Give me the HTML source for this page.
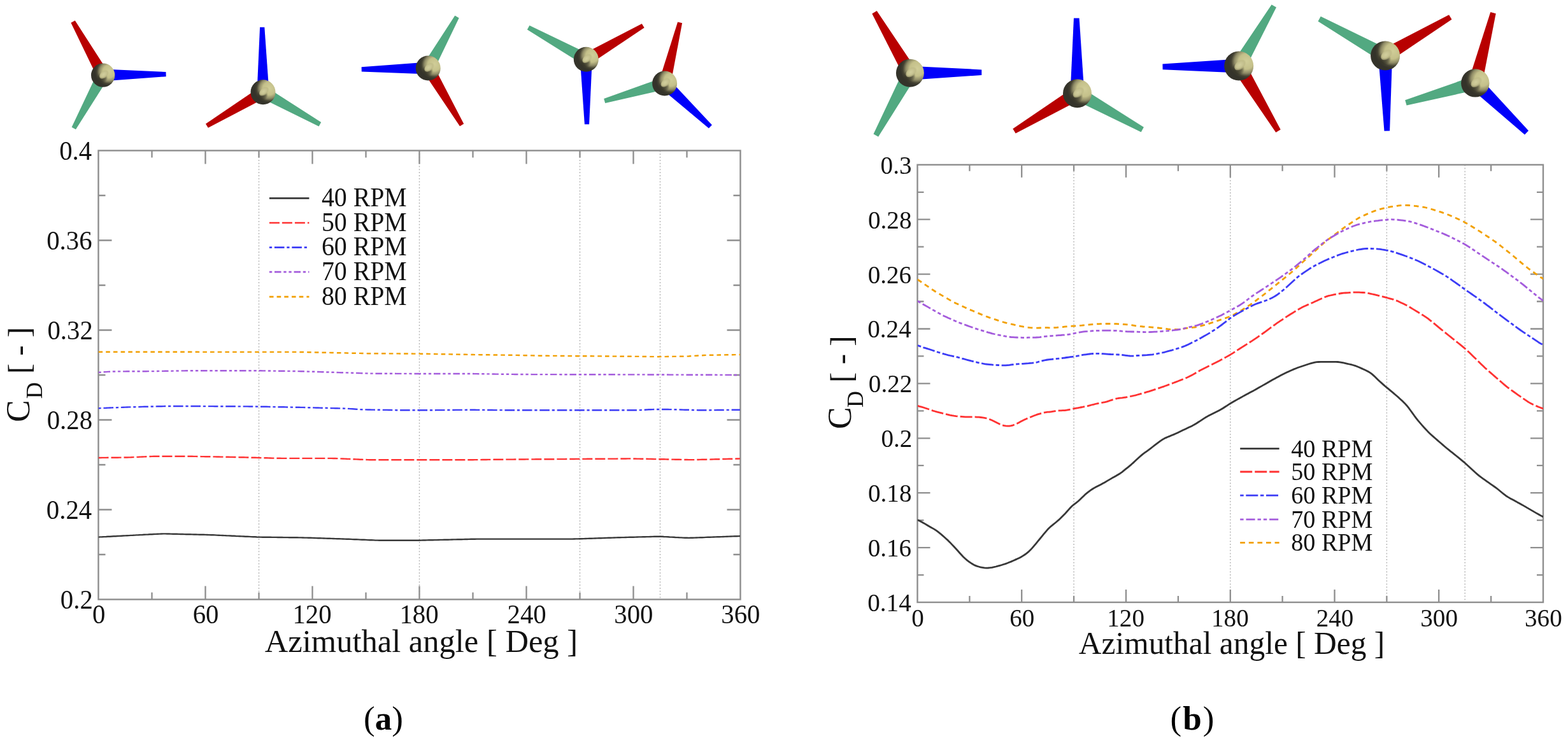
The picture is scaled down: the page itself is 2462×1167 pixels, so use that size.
<!DOCTYPE html>
<html><head><meta charset="utf-8"><title>Drag coefficient vs azimuthal angle</title>
<style>html,body{margin:0;padding:0;background:#fff;}svg{display:block;}</style></head>
<body>
<svg width="2462" height="1167" viewBox="0 0 2462 1167" font-family="Liberation Serif, Times New Roman, serif">
<defs><radialGradient id="hub" cx="0.74" cy="0.36" r="0.58" fx="0.76" fy="0.34">
<stop offset="0" stop-color="#d0cd98"/><stop offset="0.45" stop-color="#c4c08a"/><stop offset="0.68" stop-color="#8f8b66"/><stop offset="0.86" stop-color="#444232"/><stop offset="1" stop-color="#34332a"/></radialGradient>
<radialGradient id="crs" cx="0.5" cy="0.5" r="0.5"><stop offset="0" stop-color="#24231b" stop-opacity="0.75"/><stop offset="0.6" stop-color="#2a291f" stop-opacity="0.45"/><stop offset="1" stop-color="#2a291f" stop-opacity="0"/></radialGradient>
<radialGradient id="nub" cx="0.45" cy="0.45" r="0.55"><stop offset="0" stop-color="#d2cf9e"/><stop offset="0.55" stop-color="#c6c290"/><stop offset="0.8" stop-color="#bdb986" stop-opacity="0.7"/><stop offset="1" stop-color="#bdb986" stop-opacity="0"/></radialGradient><clipPath id="cl"><rect x="154.5" y="236.5" width="1008.0" height="705.0"/></clipPath><clipPath id="cr"><rect x="1440.5" y="258.8" width="982.5" height="687.2"/></clipPath></defs>
<rect width="2462" height="1167" fill="#fff"/>
<g>
<g>
<polygon fill="#b80000" points="170.0,113.5 117.8,32.2 111.4,35.8 153.4,122.7"/>
<polygon fill="#0000fa" points="161.8,127.6 260.7,120.2 260.5,113.0 161.6,108.6"/>
<polygon fill="#52a981" points="153.4,113.5 112.6,199.7 119.0,203.3 170.0,122.7"/>
<circle cx="161.7" cy="118.1" r="18.7" fill="url(#hub)"/>
<circle cx="160.8" cy="122.2" r="8.4" fill="url(#crs)"/>
<ellipse cx="163.6" cy="117.0" rx="8.6" ry="5.6" transform="rotate(-38 163.6 117.0)" fill="url(#nub)"/>
</g>
<g>
<polygon fill="#0000fa" points="422.5,144.7 415.3,42.8 408.1,42.8 403.5,144.9"/>
<polygon fill="#b80000" points="408.1,136.7 323.0,194.6 326.8,200.8 417.9,152.9"/>
<polygon fill="#52a981" points="408.3,153.1 500.6,198.4 504.2,192.0 417.7,136.5"/>
<circle cx="413.0" cy="144.8" r="19.5" fill="url(#hub)"/>
<circle cx="412.0" cy="149.1" r="8.8" fill="url(#crs)"/>
<ellipse cx="414.9" cy="143.6" rx="9.0" ry="5.8" transform="rotate(-38 414.9 143.6)" fill="url(#nub)"/>
</g>
<g>
<polygon fill="#0000fa" points="672.0,97.5 567.6,105.2 567.8,112.4 672.4,116.5"/>
<polygon fill="#52a981" points="680.5,111.7 720.7,28.2 714.3,24.6 663.9,102.3"/>
<polygon fill="#b80000" points="664.0,111.8 722.0,198.3 728.2,194.5 680.4,102.2"/>
<circle cx="672.2" cy="107.0" r="19.5" fill="url(#hub)"/>
<circle cx="671.2" cy="111.3" r="8.8" fill="url(#crs)"/>
<ellipse cx="674.2" cy="105.8" rx="9.0" ry="5.8" transform="rotate(-38 674.2 105.8)" fill="url(#nub)"/>
</g>
<g>
<polygon fill="#52a981" points="924.9,84.9 831.4,40.1 827.8,46.5 915.7,101.5"/>
<polygon fill="#b80000" points="925.1,101.4 1011.6,43.4 1007.8,37.2 915.5,85.0"/>
<polygon fill="#0000fa" points="910.8,93.3 917.9,195.2 925.1,195.2 929.8,93.1"/>
<circle cx="920.3" cy="93.2" r="19.5" fill="url(#hub)"/>
<circle cx="919.3" cy="97.5" r="8.8" fill="url(#crs)"/>
<ellipse cx="922.2" cy="92.0" rx="9.0" ry="5.8" transform="rotate(-38 922.2 92.0)" fill="url(#nub)"/>
</g>
<g>
<polygon fill="#b80000" points="1052.8,133.3 1071.1,36.2 1064.1,34.4 1034.4,128.7"/>
<polygon fill="#52a981" points="1040.9,121.9 948.2,155.1 950.2,162.1 1046.3,140.1"/>
<polygon fill="#0000fa" points="1037.1,137.9 1112.9,201.6 1117.9,196.2 1050.1,124.1"/>
<circle cx="1043.6" cy="131.0" r="19.5" fill="url(#hub)"/>
<circle cx="1042.6" cy="135.3" r="8.8" fill="url(#crs)"/>
<ellipse cx="1045.5" cy="129.8" rx="9.0" ry="5.8" transform="rotate(-38 1045.5 129.8)" fill="url(#nub)"/>
</g>
<g>
<polygon fill="#b80000" points="1438.4,109.1 1376.7,17.1 1369.3,21.5 1419.4,120.3"/>
<polygon fill="#0000fa" points="1429.0,125.7 1541.3,118.0 1541.3,109.4 1428.8,103.7"/>
<polygon fill="#52a981" points="1419.2,109.4 1371.5,210.6 1379.1,214.8 1438.6,120.0"/>
<circle cx="1428.9" cy="114.7" r="22.0" fill="url(#hub)"/>
<circle cx="1427.8" cy="119.5" r="9.9" fill="url(#crs)"/>
<ellipse cx="1431.1" cy="113.4" rx="10.1" ry="6.6" transform="rotate(-38 1431.1 113.4)" fill="url(#nub)"/>
</g>
<g>
<polygon fill="#0000fa" points="1702.5,146.6 1694.6,28.4 1686.0,28.4 1680.5,146.8"/>
<polygon fill="#b80000" points="1685.9,137.3 1590.3,202.2 1594.7,209.6 1697.1,156.1"/>
<polygon fill="#52a981" points="1686.2,156.3 1791.7,207.4 1795.9,199.8 1696.8,137.1"/>
<circle cx="1691.5" cy="146.7" r="22.5" fill="url(#hub)"/>
<circle cx="1690.4" cy="151.6" r="10.1" fill="url(#crs)"/>
<ellipse cx="1693.8" cy="145.3" rx="10.3" ry="6.8" transform="rotate(-38 1693.8 145.3)" fill="url(#nub)"/>
</g>
<g>
<polygon fill="#0000fa" points="1945.1,92.5 1825.4,100.6 1825.6,109.2 1945.3,114.5"/>
<polygon fill="#52a981" points="1954.7,109.1 2004.0,11.6 1996.6,7.2 1935.7,97.9"/>
<polygon fill="#b80000" points="1935.8,109.2 2003.3,207.9 2010.7,203.5 1954.6,97.8"/>
<circle cx="1945.2" cy="103.5" r="23.0" fill="url(#hub)"/>
<circle cx="1944.0" cy="108.6" r="10.3" fill="url(#crs)"/>
<ellipse cx="1947.5" cy="102.1" rx="10.6" ry="6.9" transform="rotate(-38 1947.5 102.1)" fill="url(#nub)"/>
</g>
<g>
<polygon fill="#52a981" points="2180.5,77.8 2073.7,25.8 2069.5,33.4 2169.7,97.0"/>
<polygon fill="#b80000" points="2180.7,96.9 2279.5,30.6 2275.1,23.2 2169.5,77.9"/>
<polygon fill="#0000fa" points="2164.1,87.7 2173.5,205.8 2182.1,205.6 2186.1,87.1"/>
<circle cx="2175.1" cy="87.4" r="23.0" fill="url(#hub)"/>
<circle cx="2173.9" cy="92.5" r="10.3" fill="url(#crs)"/>
<ellipse cx="2177.4" cy="86.0" rx="10.6" ry="6.9" transform="rotate(-38 2177.4 86.0)" fill="url(#nub)"/>
</g>
<g>
<polygon fill="#b80000" points="2327.0,133.1 2348.7,21.3 2340.3,19.1 2305.6,127.7"/>
<polygon fill="#52a981" points="2313.3,119.8 2206.2,157.2 2208.6,165.4 2319.3,141.0"/>
<polygon fill="#0000fa" points="2308.7,138.3 2394.0,211.5 2400.0,205.3 2323.9,122.5"/>
<circle cx="2316.3" cy="130.4" r="22.2" fill="url(#hub)"/>
<circle cx="2315.2" cy="135.3" r="10.0" fill="url(#crs)"/>
<ellipse cx="2318.5" cy="129.1" rx="10.2" ry="6.7" transform="rotate(-38 2318.5 129.1)" fill="url(#nub)"/>
</g>
<line x1="406.5" y1="236.5" x2="406.5" y2="941.5" stroke="#b4b4b4" stroke-width="1.4" stroke-dasharray="2 2.8"/>
<line x1="658.5" y1="236.5" x2="658.5" y2="941.5" stroke="#b4b4b4" stroke-width="1.4" stroke-dasharray="2 2.8"/>
<line x1="910.5" y1="236.5" x2="910.5" y2="941.5" stroke="#b4b4b4" stroke-width="1.4" stroke-dasharray="2 2.8"/>
<line x1="1036.5" y1="236.5" x2="1036.5" y2="941.5" stroke="#b4b4b4" stroke-width="1.4" stroke-dasharray="2 2.8"/>
<rect x="154.5" y="236.5" width="1008.0" height="705.0" fill="none" stroke="#8e8e8e" stroke-width="2.4"/>
<path stroke="#8e8e8e" stroke-width="2.3" fill="none" d="M322.5,941.5L322.5,920.5 M322.5,236.5L322.5,257.5 M490.5,941.5L490.5,920.5 M490.5,236.5L490.5,257.5 M658.5,941.5L658.5,920.5 M658.5,236.5L658.5,257.5 M826.5,941.5L826.5,920.5 M826.5,236.5L826.5,257.5 M994.5,941.5L994.5,920.5 M994.5,236.5L994.5,257.5 M238.5,941.5L238.5,930.5 M238.5,236.5L238.5,247.5 M406.5,941.5L406.5,930.5 M406.5,236.5L406.5,247.5 M574.5,941.5L574.5,930.5 M574.5,236.5L574.5,247.5 M742.5,941.5L742.5,930.5 M742.5,236.5L742.5,247.5 M910.5,941.5L910.5,930.5 M910.5,236.5L910.5,247.5 M1078.5,941.5L1078.5,930.5 M1078.5,236.5L1078.5,247.5 M154.5,800.5L175.5,800.5 M1162.5,800.5L1141.5,800.5 M154.5,659.5L175.5,659.5 M1162.5,659.5L1141.5,659.5 M154.5,518.5L175.5,518.5 M1162.5,518.5L1141.5,518.5 M154.5,377.5L175.5,377.5 M1162.5,377.5L1141.5,377.5 M154.5,871.0L165.5,871.0 M1162.5,871.0L1151.5,871.0 M154.5,730.0L165.5,730.0 M1162.5,730.0L1151.5,730.0 M154.5,589.0L165.5,589.0 M1162.5,589.0L1151.5,589.0 M154.5,448.0L165.5,448.0 M1162.5,448.0L1151.5,448.0 M154.5,307.0L165.5,307.0 M1162.5,307.0L1151.5,307.0"/>
<line x1="1686.1" y1="258.8" x2="1686.1" y2="946.0" stroke="#b4b4b4" stroke-width="1.4" stroke-dasharray="2 2.8"/>
<line x1="1931.8" y1="258.8" x2="1931.8" y2="946.0" stroke="#b4b4b4" stroke-width="1.4" stroke-dasharray="2 2.8"/>
<line x1="2177.4" y1="258.8" x2="2177.4" y2="946.0" stroke="#b4b4b4" stroke-width="1.4" stroke-dasharray="2 2.8"/>
<line x1="2300.2" y1="258.8" x2="2300.2" y2="946.0" stroke="#b4b4b4" stroke-width="1.4" stroke-dasharray="2 2.8"/>
<rect x="1440.5" y="258.8" width="982.5" height="687.2" fill="none" stroke="#8e8e8e" stroke-width="2.4"/>
<path stroke="#8e8e8e" stroke-width="2.3" fill="none" d="M1604.2,946.0L1604.2,926.0 M1604.2,258.8L1604.2,278.8 M1768.0,946.0L1768.0,926.0 M1768.0,258.8L1768.0,278.8 M1931.8,946.0L1931.8,926.0 M1931.8,258.8L1931.8,278.8 M2095.5,946.0L2095.5,926.0 M2095.5,258.8L2095.5,278.8 M2259.2,946.0L2259.2,926.0 M2259.2,258.8L2259.2,278.8 M1522.4,946.0L1522.4,936.0 M1522.4,258.8L1522.4,268.8 M1686.1,946.0L1686.1,936.0 M1686.1,258.8L1686.1,268.8 M1849.9,946.0L1849.9,936.0 M1849.9,258.8L1849.9,268.8 M2013.6,946.0L2013.6,936.0 M2013.6,258.8L2013.6,268.8 M2177.4,946.0L2177.4,936.0 M2177.4,258.8L2177.4,268.8 M2341.1,946.0L2341.1,936.0 M2341.1,258.8L2341.1,268.8 M1440.5,860.1L1460.5,860.1 M2423.0,860.1L2403.0,860.1 M1440.5,774.2L1460.5,774.2 M2423.0,774.2L2403.0,774.2 M1440.5,688.3L1460.5,688.3 M2423.0,688.3L2403.0,688.3 M1440.5,602.4L1460.5,602.4 M2423.0,602.4L2403.0,602.4 M1440.5,516.5L1460.5,516.5 M2423.0,516.5L2403.0,516.5 M1440.5,430.6L1460.5,430.6 M2423.0,430.6L2403.0,430.6 M1440.5,344.7L1460.5,344.7 M2423.0,344.7L2403.0,344.7 M1440.5,903.1L1450.5,903.1 M2423.0,903.1L2413.0,903.1 M1440.5,817.1L1450.5,817.1 M2423.0,817.1L2413.0,817.1 M1440.5,731.2L1450.5,731.2 M2423.0,731.2L2413.0,731.2 M1440.5,645.4L1450.5,645.4 M2423.0,645.4L2413.0,645.4 M1440.5,559.4L1450.5,559.4 M2423.0,559.4L2413.0,559.4 M1440.5,473.5L1450.5,473.5 M2423.0,473.5L2413.0,473.5 M1440.5,387.6L1450.5,387.6 M2423.0,387.6L2413.0,387.6 M1440.5,301.8L1450.5,301.8 M2423.0,301.8L2413.0,301.8"/>
<path clip-path="url(#cl)" d="M154.5,552.8 L157.5,552.8 L160.5,552.8 L163.5,552.8 L166.5,552.8 L169.5,552.8 L172.5,552.8 L175.5,552.8 L178.5,552.8 L181.5,552.8 L184.5,552.8 L187.5,552.8 L190.5,552.8 L193.5,552.8 L196.5,552.8 L199.5,552.8 L202.5,552.8 L205.5,552.8 L208.5,552.8 L211.5,552.8 L214.5,552.8 L217.5,552.8 L220.5,552.8 L223.5,552.8 L226.5,552.8 L229.5,552.8 L232.5,552.8 L235.5,552.8 L238.5,552.8 L241.5,552.8 L244.5,552.8 L247.5,552.8 L250.5,552.8 L253.5,552.8 L256.5,552.8 L259.5,552.8 L262.5,552.8 L265.5,552.8 L268.5,552.8 L271.5,552.8 L274.5,552.8 L277.5,552.8 L280.5,552.8 L283.5,552.8 L286.5,552.8 L289.5,552.8 L292.5,552.8 L295.5,552.8 L298.5,552.8 L301.5,552.8 L304.5,552.8 L307.5,552.8 L310.5,552.8 L313.5,552.9 L316.5,552.9 L319.5,552.9 L322.5,552.9 L325.5,552.9 L328.5,552.9 L331.5,552.9 L334.5,552.9 L337.5,552.9 L340.5,552.9 L343.5,552.9 L346.5,552.9 L349.5,552.9 L352.5,552.9 L355.5,552.9 L358.5,552.9 L361.5,552.9 L364.5,552.9 L367.5,552.9 L370.5,552.9 L373.5,552.9 L376.5,552.9 L379.5,552.9 L382.5,552.9 L385.5,552.9 L388.5,552.9 L391.5,552.9 L394.5,552.9 L397.5,552.9 L400.5,552.9 L403.5,552.9 L406.5,552.9 L409.5,552.9 L412.5,552.9 L415.5,552.9 L418.5,552.9 L421.5,552.9 L424.5,552.9 L427.5,552.9 L430.5,552.9 L433.5,552.9 L436.5,552.9 L439.5,552.9 L442.5,552.9 L445.5,552.9 L448.5,552.9 L451.5,552.9 L454.5,552.9 L457.5,552.9 L460.5,552.9 L463.5,552.9 L466.5,552.9 L469.5,552.9 L472.5,553.0 L475.5,553.0 L478.5,553.1 L481.5,553.1 L484.5,553.2 L487.5,553.3 L490.5,553.3 L493.5,553.4 L496.5,553.5 L499.5,553.5 L502.5,553.6 L505.5,553.7 L508.5,553.7 L511.5,553.8 L514.5,553.8 L517.5,553.9 L520.5,554.0 L523.5,554.0 L526.5,554.1 L529.5,554.2 L532.5,554.2 L535.5,554.3 L538.5,554.4 L541.5,554.4 L544.5,554.5 L547.5,554.6 L550.5,554.6 L553.5,554.7 L556.5,554.7 L559.5,554.8 L562.5,554.9 L565.5,554.9 L568.5,555.0 L571.5,555.1 L574.5,555.1 L577.5,555.2 L580.5,555.2 L583.5,555.2 L586.5,555.2 L589.5,555.3 L592.5,555.3 L595.5,555.3 L598.5,555.3 L601.5,555.3 L604.5,555.3 L607.5,555.3 L610.5,555.4 L613.5,555.4 L616.5,555.4 L619.5,555.4 L622.5,555.4 L625.5,555.4 L628.5,555.5 L631.5,555.5 L634.5,555.5 L637.5,555.5 L640.5,555.5 L643.5,555.5 L646.5,555.5 L649.5,555.6 L652.5,555.6 L655.5,555.6 L658.5,555.6 L661.5,555.7 L664.5,555.7 L667.5,555.8 L670.5,555.8 L673.5,555.9 L676.5,555.9 L679.5,556.0 L682.5,556.0 L685.5,556.1 L688.5,556.1 L691.5,556.2 L694.5,556.2 L697.5,556.3 L700.5,556.3 L703.5,556.4 L706.5,556.4 L709.5,556.5 L712.5,556.5 L715.5,556.6 L718.5,556.6 L721.5,556.7 L724.5,556.7 L727.5,556.8 L730.5,556.8 L733.5,556.9 L736.5,556.9 L739.5,557.0 L742.5,557.0 L745.5,557.1 L748.5,557.1 L751.5,557.1 L754.5,557.2 L757.5,557.2 L760.5,557.3 L763.5,557.3 L766.5,557.3 L769.5,557.4 L772.5,557.4 L775.5,557.5 L778.5,557.5 L781.5,557.5 L784.5,557.6 L787.5,557.6 L790.5,557.6 L793.5,557.7 L796.5,557.7 L799.5,557.8 L802.5,557.8 L805.5,557.8 L808.5,557.9 L811.5,557.9 L814.5,558.0 L817.5,558.1 L820.5,558.1 L823.5,558.2 L826.5,558.2 L829.5,558.3 L832.5,558.4 L835.5,558.4 L838.5,558.5 L841.5,558.5 L844.5,558.6 L847.5,558.7 L850.5,558.7 L853.5,558.8 L856.5,558.8 L859.5,558.8 L862.5,558.9 L865.5,558.9 L868.5,558.9 L871.5,558.9 L874.5,558.9 L877.5,559.0 L880.5,559.0 L883.5,559.0 L886.5,559.0 L889.5,559.1 L892.5,559.1 L895.5,559.1 L898.5,559.1 L901.5,559.1 L904.5,559.2 L907.5,559.2 L910.5,559.2 L913.5,559.2 L916.5,559.2 L919.5,559.3 L922.5,559.3 L925.5,559.3 L928.5,559.3 L931.5,559.4 L934.5,559.4 L937.5,559.4 L940.5,559.4 L943.5,559.4 L946.5,559.5 L949.5,559.5 L952.5,559.5 L955.5,559.5 L958.5,559.5 L961.5,559.6 L964.5,559.6 L967.5,559.6 L970.5,559.6 L973.5,559.7 L976.5,559.7 L979.5,559.7 L982.5,559.7 L985.5,559.8 L988.5,559.8 L991.5,559.8 L994.5,559.8 L997.5,559.9 L1000.5,559.9 L1003.5,559.9 L1006.5,559.9 L1009.5,560.0 L1012.5,560.0 L1015.5,560.0 L1018.5,560.1 L1021.5,560.1 L1024.5,560.1 L1027.5,560.1 L1030.5,560.2 L1033.5,560.2 L1036.5,560.2 L1039.5,560.1 L1042.5,560.1 L1045.5,560.1 L1048.5,560.0 L1051.5,560.0 L1054.5,560.0 L1057.5,559.9 L1060.5,559.9 L1063.5,559.9 L1066.5,559.8 L1069.5,559.8 L1072.5,559.8 L1075.5,559.7 L1078.5,559.6 L1081.5,559.5 L1084.5,559.3 L1087.5,559.1 L1090.5,558.9 L1093.5,558.7 L1096.5,558.5 L1099.5,558.3 L1102.5,558.2 L1105.5,558.0 L1108.5,557.9 L1111.5,557.8 L1114.5,557.8 L1117.5,557.7 L1120.5,557.7 L1123.5,557.6 L1126.5,557.6 L1129.5,557.5 L1132.5,557.5 L1135.5,557.4 L1138.5,557.4 L1141.5,557.3 L1144.5,557.3 L1147.5,557.2 L1150.5,557.2 L1153.5,557.1 L1156.5,557.1 L1159.5,557.0 L1162.0,557.0" fill="none" stroke="#f2a000" stroke-width="2.4" stroke-linejoin="round" stroke-dasharray="6.6 5.1"/>
<path clip-path="url(#cr)" d="M1440.6,439.0 L1443.6,441.0 L1446.6,443.0 L1449.6,445.1 L1452.6,447.1 L1455.6,449.1 L1458.6,451.2 L1461.6,453.2 L1464.6,455.3 L1467.6,457.2 L1470.6,459.1 L1473.6,460.9 L1476.6,462.6 L1479.6,464.4 L1482.6,466.2 L1485.6,467.9 L1488.6,469.6 L1491.6,471.4 L1494.6,473.1 L1497.6,474.7 L1500.6,476.2 L1503.6,477.6 L1506.6,479.0 L1509.6,480.4 L1512.6,481.7 L1515.6,483.1 L1518.6,484.4 L1521.6,485.8 L1524.6,487.1 L1527.6,488.3 L1530.6,489.6 L1533.6,490.8 L1536.6,492.1 L1539.6,493.4 L1542.6,494.6 L1545.6,495.8 L1548.6,497.0 L1551.6,498.1 L1554.6,499.2 L1557.6,500.2 L1560.6,501.2 L1563.6,502.2 L1566.6,503.2 L1569.6,504.2 L1572.6,505.1 L1575.6,506.0 L1578.6,506.8 L1581.6,507.6 L1584.6,508.3 L1587.6,509.0 L1590.6,509.7 L1593.6,510.4 L1596.6,511.1 L1599.6,511.8 L1602.6,512.4 L1605.6,512.9 L1608.6,513.4 L1611.6,513.9 L1614.6,514.3 L1617.6,514.6 L1620.6,514.8 L1623.6,515.0 L1626.6,515.1 L1629.6,515.1 L1632.6,515.0 L1635.6,514.9 L1638.6,514.8 L1641.6,514.7 L1644.6,514.7 L1647.6,514.8 L1650.6,514.8 L1653.6,514.7 L1656.6,514.6 L1659.6,514.4 L1662.6,514.1 L1665.6,513.9 L1668.6,513.6 L1671.6,513.2 L1674.6,512.9 L1677.6,512.6 L1680.6,512.4 L1683.6,512.2 L1686.6,512.1 L1689.6,511.9 L1692.6,511.7 L1695.6,511.4 L1698.6,511.2 L1701.6,510.8 L1704.6,510.5 L1707.6,510.2 L1710.6,509.9 L1713.6,509.6 L1716.6,509.3 L1719.6,509.1 L1722.6,508.9 L1725.6,508.8 L1728.6,508.7 L1731.6,508.6 L1734.6,508.5 L1737.6,508.5 L1740.6,508.5 L1743.6,508.5 L1746.6,508.6 L1749.6,508.6 L1752.6,508.7 L1755.6,508.9 L1758.6,509.0 L1761.6,509.2 L1764.6,509.4 L1767.6,509.6 L1770.6,509.9 L1773.6,510.2 L1776.6,510.6 L1779.6,511.1 L1782.6,511.6 L1785.6,512.0 L1788.6,512.4 L1791.6,512.7 L1794.6,513.0 L1797.6,513.2 L1800.6,513.5 L1803.6,513.7 L1806.6,513.9 L1809.6,514.1 L1812.6,514.4 L1815.6,514.7 L1818.6,515.0 L1821.6,515.3 L1824.6,515.7 L1827.6,516.1 L1830.6,516.5 L1833.6,516.9 L1836.6,517.2 L1839.6,517.4 L1842.6,517.5 L1845.6,517.5 L1848.6,517.4 L1851.6,517.2 L1854.6,516.8 L1857.6,516.4 L1860.6,515.9 L1863.6,515.4 L1866.6,515.0 L1869.6,514.7 L1872.6,514.4 L1875.6,514.0 L1878.6,513.6 L1881.6,512.9 L1884.6,512.2 L1887.6,511.4 L1890.6,510.6 L1893.6,509.8 L1896.6,508.9 L1899.6,507.9 L1902.6,506.9 L1905.6,505.9 L1908.6,504.9 L1911.6,503.9 L1914.6,502.9 L1917.6,501.9 L1920.6,500.9 L1923.6,499.9 L1926.6,498.8 L1929.6,497.7 L1932.6,496.4 L1935.6,494.9 L1938.6,493.4 L1941.6,491.7 L1944.6,490.1 L1947.6,488.4 L1950.6,486.6 L1953.6,484.7 L1956.6,482.8 L1959.6,480.8 L1962.6,478.9 L1965.6,476.8 L1968.6,474.7 L1971.6,472.5 L1974.6,470.2 L1977.6,467.9 L1980.6,465.6 L1983.6,463.3 L1986.6,461.0 L1989.6,458.6 L1992.6,456.2 L1995.6,453.8 L1998.6,451.4 L2001.6,449.0 L2004.6,446.6 L2007.6,444.2 L2010.6,441.8 L2013.6,439.3 L2016.6,436.9 L2019.6,434.5 L2022.6,432.0 L2025.6,429.5 L2028.6,427.0 L2031.6,424.4 L2034.6,421.7 L2037.6,418.9 L2040.6,416.2 L2043.6,413.4 L2046.6,410.6 L2049.6,407.9 L2052.6,405.2 L2055.6,402.6 L2058.6,399.9 L2061.6,397.2 L2064.6,394.4 L2067.6,391.7 L2070.6,388.9 L2073.6,386.1 L2076.6,383.4 L2079.6,380.8 L2082.6,378.4 L2085.6,376.0 L2088.6,373.8 L2091.6,371.5 L2094.6,369.3 L2097.6,367.0 L2100.6,364.8 L2103.6,362.6 L2106.6,360.3 L2109.6,358.2 L2112.6,356.0 L2115.6,354.0 L2118.6,352.0 L2121.6,350.0 L2124.6,348.0 L2127.6,346.0 L2130.6,344.1 L2133.6,342.3 L2136.6,340.7 L2139.6,339.3 L2142.6,337.9 L2145.6,336.6 L2148.6,335.3 L2151.6,334.0 L2154.6,332.7 L2157.6,331.6 L2160.6,330.5 L2163.6,329.6 L2166.6,328.7 L2169.6,327.9 L2172.6,327.1 L2175.6,326.4 L2178.6,325.8 L2181.6,325.2 L2184.6,324.7 L2187.6,324.2 L2190.6,323.8 L2193.6,323.3 L2196.6,322.9 L2199.6,322.6 L2202.6,322.5 L2205.6,322.4 L2208.6,322.4 L2211.6,322.5 L2214.6,322.6 L2217.6,322.9 L2220.6,323.3 L2223.6,323.6 L2226.6,324.1 L2229.6,324.5 L2232.6,324.9 L2235.6,325.4 L2238.6,326.0 L2241.6,326.8 L2244.6,327.7 L2247.6,328.5 L2250.6,329.4 L2253.6,330.3 L2256.6,331.2 L2259.6,332.2 L2262.6,333.2 L2265.6,334.2 L2268.6,335.3 L2271.6,336.4 L2274.6,337.5 L2277.6,338.8 L2280.6,340.1 L2283.6,341.4 L2286.6,342.8 L2289.6,344.1 L2292.6,345.5 L2295.6,346.9 L2298.6,348.4 L2301.6,350.1 L2304.6,351.8 L2307.6,353.6 L2310.6,355.5 L2313.6,357.3 L2316.6,359.2 L2319.6,361.1 L2322.6,362.9 L2325.6,364.8 L2328.6,366.8 L2331.6,368.8 L2334.6,370.8 L2337.6,372.7 L2340.6,374.7 L2343.6,376.8 L2346.6,378.8 L2349.6,381.0 L2352.6,383.3 L2355.6,385.6 L2358.6,388.0 L2361.6,390.4 L2364.6,392.7 L2367.6,395.1 L2370.6,397.5 L2373.6,400.0 L2376.6,402.5 L2379.6,405.0 L2382.6,407.5 L2385.6,410.1 L2388.6,412.6 L2391.6,415.1 L2394.6,417.6 L2397.6,420.0 L2400.6,422.3 L2403.6,424.5 L2406.6,426.7 L2409.6,428.9 L2412.6,431.0 L2415.6,433.1 L2418.6,435.2 L2421.6,436.9 L2423.0,438.3" fill="none" stroke="#f2a000" stroke-width="2.8" stroke-linejoin="round" stroke-dasharray="7.7 5.9"/>
<path clip-path="url(#cl)" d="M154.5,584.9 L157.5,584.7 L160.5,584.5 L163.5,584.3 L166.5,584.1 L169.5,583.9 L172.5,583.7 L175.5,583.6 L178.5,583.5 L181.5,583.5 L184.5,583.4 L187.5,583.4 L190.5,583.4 L193.5,583.4 L196.5,583.4 L199.5,583.3 L202.5,583.3 L205.5,583.3 L208.5,583.3 L211.5,583.3 L214.5,583.3 L217.5,583.2 L220.5,583.2 L223.5,583.2 L226.5,583.2 L229.5,583.2 L232.5,583.1 L235.5,583.1 L238.5,583.1 L241.5,583.1 L244.5,583.0 L247.5,583.0 L250.5,582.9 L253.5,582.9 L256.5,582.9 L259.5,582.8 L262.5,582.8 L265.5,582.7 L268.5,582.7 L271.5,582.6 L274.5,582.6 L277.5,582.5 L280.5,582.5 L283.5,582.4 L286.5,582.4 L289.5,582.4 L292.5,582.3 L295.5,582.3 L298.5,582.2 L301.5,582.2 L304.5,582.2 L307.5,582.2 L310.5,582.2 L313.5,582.2 L316.5,582.2 L319.5,582.2 L322.5,582.2 L325.5,582.2 L328.5,582.2 L331.5,582.2 L334.5,582.2 L337.5,582.2 L340.5,582.2 L343.5,582.2 L346.5,582.2 L349.5,582.2 L352.5,582.2 L355.5,582.2 L358.5,582.2 L361.5,582.2 L364.5,582.2 L367.5,582.2 L370.5,582.2 L373.5,582.2 L376.5,582.2 L379.5,582.2 L382.5,582.2 L385.5,582.2 L388.5,582.2 L391.5,582.2 L394.5,582.2 L397.5,582.2 L400.5,582.2 L403.5,582.3 L406.5,582.3 L409.5,582.3 L412.5,582.4 L415.5,582.4 L418.5,582.4 L421.5,582.5 L424.5,582.5 L427.5,582.6 L430.5,582.6 L433.5,582.6 L436.5,582.7 L439.5,582.7 L442.5,582.7 L445.5,582.8 L448.5,582.8 L451.5,582.9 L454.5,582.9 L457.5,582.9 L460.5,583.0 L463.5,583.0 L466.5,583.1 L469.5,583.1 L472.5,583.2 L475.5,583.3 L478.5,583.4 L481.5,583.5 L484.5,583.6 L487.5,583.6 L490.5,583.7 L493.5,583.8 L496.5,583.9 L499.5,584.0 L502.5,584.1 L505.5,584.2 L508.5,584.3 L511.5,584.4 L514.5,584.5 L517.5,584.6 L520.5,584.7 L523.5,584.8 L526.5,584.9 L529.5,585.0 L532.5,585.1 L535.5,585.2 L538.5,585.2 L541.5,585.3 L544.5,585.4 L547.5,585.5 L550.5,585.6 L553.5,585.7 L556.5,585.8 L559.5,585.9 L562.5,586.0 L565.5,586.1 L568.5,586.2 L571.5,586.3 L574.5,586.4 L577.5,586.5 L580.5,586.6 L583.5,586.6 L586.5,586.7 L589.5,586.7 L592.5,586.7 L595.5,586.7 L598.5,586.8 L601.5,586.8 L604.5,586.8 L607.5,586.8 L610.5,586.8 L613.5,586.8 L616.5,586.8 L619.5,586.8 L622.5,586.9 L625.5,586.9 L628.5,586.9 L631.5,586.9 L634.5,586.9 L637.5,586.9 L640.5,586.9 L643.5,586.9 L646.5,587.0 L649.5,587.0 L652.5,587.0 L655.5,587.0 L658.5,587.0 L661.5,587.0 L664.5,587.0 L667.5,587.0 L670.5,587.0 L673.5,587.0 L676.5,587.0 L679.5,587.0 L682.5,587.0 L685.5,587.0 L688.5,587.0 L691.5,587.0 L694.5,587.0 L697.5,587.0 L700.5,587.0 L703.5,587.0 L706.5,587.0 L709.5,587.0 L712.5,587.0 L715.5,587.0 L718.5,587.0 L721.5,587.0 L724.5,587.0 L727.5,587.0 L730.5,587.0 L733.5,587.0 L736.5,587.0 L739.5,587.0 L742.5,587.0 L745.5,587.1 L748.5,587.1 L751.5,587.2 L754.5,587.2 L757.5,587.2 L760.5,587.3 L763.5,587.3 L766.5,587.4 L769.5,587.4 L772.5,587.5 L775.5,587.5 L778.5,587.6 L781.5,587.6 L784.5,587.6 L787.5,587.7 L790.5,587.7 L793.5,587.8 L796.5,587.8 L799.5,587.8 L802.5,587.9 L805.5,587.9 L808.5,588.0 L811.5,588.0 L814.5,588.0 L817.5,588.0 L820.5,588.0 L823.5,588.0 L826.5,588.0 L829.5,588.0 L832.5,588.0 L835.5,588.1 L838.5,588.1 L841.5,588.1 L844.5,588.1 L847.5,588.1 L850.5,588.1 L853.5,588.1 L856.5,588.1 L859.5,588.1 L862.5,588.1 L865.5,588.1 L868.5,588.1 L871.5,588.1 L874.5,588.1 L877.5,588.1 L880.5,588.2 L883.5,588.2 L886.5,588.2 L889.5,588.2 L892.5,588.2 L895.5,588.2 L898.5,588.2 L901.5,588.2 L904.5,588.2 L907.5,588.2 L910.5,588.2 L913.5,588.2 L916.5,588.2 L919.5,588.2 L922.5,588.2 L925.5,588.3 L928.5,588.3 L931.5,588.3 L934.5,588.3 L937.5,588.3 L940.5,588.3 L943.5,588.3 L946.5,588.3 L949.5,588.3 L952.5,588.3 L955.5,588.3 L958.5,588.3 L961.5,588.3 L964.5,588.3 L967.5,588.3 L970.5,588.4 L973.5,588.4 L976.5,588.4 L979.5,588.4 L982.5,588.4 L985.5,588.4 L988.5,588.4 L991.5,588.4 L994.5,588.4 L997.5,588.4 L1000.5,588.4 L1003.5,588.4 L1006.5,588.4 L1009.5,588.4 L1012.5,588.4 L1015.5,588.5 L1018.5,588.5 L1021.5,588.5 L1024.5,588.5 L1027.5,588.5 L1030.5,588.5 L1033.5,588.5 L1036.5,588.5 L1039.5,588.5 L1042.5,588.5 L1045.5,588.5 L1048.5,588.5 L1051.5,588.6 L1054.5,588.6 L1057.5,588.6 L1060.5,588.6 L1063.5,588.6 L1066.5,588.6 L1069.5,588.6 L1072.5,588.6 L1075.5,588.7 L1078.5,588.7 L1081.5,588.7 L1084.5,588.7 L1087.5,588.7 L1090.5,588.7 L1093.5,588.7 L1096.5,588.7 L1099.5,588.8 L1102.5,588.8 L1105.5,588.8 L1108.5,588.8 L1111.5,588.8 L1114.5,588.8 L1117.5,588.8 L1120.5,588.8 L1123.5,588.8 L1126.5,588.9 L1129.5,588.9 L1132.5,588.9 L1135.5,588.9 L1138.5,588.9 L1141.5,588.9 L1144.5,588.9 L1147.5,588.9 L1150.5,589.0 L1153.5,589.0 L1156.5,589.0 L1159.5,589.0 L1162.0,589.0" fill="none" stroke="#a45cdc" stroke-width="2.4" stroke-linejoin="round" stroke-dasharray="4.3 3.8 10.5 3.8 4.3 3.8"/>
<path clip-path="url(#cr)" d="M1440.6,472.8 L1443.6,474.5 L1446.6,476.2 L1449.6,478.0 L1452.6,479.7 L1455.6,481.4 L1458.6,483.1 L1461.6,484.8 L1464.6,486.6 L1467.6,488.3 L1470.6,489.9 L1473.6,491.6 L1476.6,493.3 L1479.6,494.9 L1482.6,496.4 L1485.6,497.8 L1488.6,499.2 L1491.6,500.5 L1494.6,501.9 L1497.6,503.2 L1500.6,504.5 L1503.6,505.8 L1506.6,507.0 L1509.6,508.1 L1512.6,509.2 L1515.6,510.3 L1518.6,511.4 L1521.6,512.5 L1524.6,513.5 L1527.6,514.6 L1530.6,515.7 L1533.6,516.7 L1536.6,517.6 L1539.6,518.5 L1542.6,519.4 L1545.6,520.3 L1548.6,521.2 L1551.6,522.1 L1554.6,522.9 L1557.6,523.8 L1560.6,524.5 L1563.6,525.1 L1566.6,525.8 L1569.6,526.4 L1572.6,527.0 L1575.6,527.6 L1578.6,528.2 L1581.6,528.8 L1584.6,529.2 L1587.6,529.5 L1590.6,529.7 L1593.6,529.9 L1596.6,530.0 L1599.6,530.1 L1602.6,530.2 L1605.6,530.3 L1608.6,530.3 L1611.6,530.3 L1614.6,530.2 L1617.6,530.2 L1620.6,530.1 L1623.6,530.1 L1626.6,530.0 L1629.6,529.8 L1632.6,529.6 L1635.6,529.2 L1638.6,528.8 L1641.6,528.4 L1644.6,528.1 L1647.6,527.8 L1650.6,527.6 L1653.6,527.3 L1656.6,527.1 L1659.6,526.9 L1662.6,526.7 L1665.6,526.5 L1668.6,526.2 L1671.6,526.0 L1674.6,525.7 L1677.6,525.3 L1680.6,524.9 L1683.6,524.3 L1686.6,523.6 L1689.6,523.0 L1692.6,522.3 L1695.6,521.8 L1698.6,521.3 L1701.6,520.9 L1704.6,520.6 L1707.6,520.4 L1710.6,520.1 L1713.6,519.9 L1716.6,519.7 L1719.6,519.5 L1722.6,519.4 L1725.6,519.3 L1728.6,519.2 L1731.6,519.2 L1734.6,519.2 L1737.6,519.2 L1740.6,519.2 L1743.6,519.2 L1746.6,519.2 L1749.6,519.3 L1752.6,519.4 L1755.6,519.6 L1758.6,519.9 L1761.6,520.2 L1764.6,520.4 L1767.6,520.6 L1770.6,520.8 L1773.6,520.9 L1776.6,521.0 L1779.6,521.0 L1782.6,521.1 L1785.6,521.2 L1788.6,521.3 L1791.6,521.4 L1794.6,521.5 L1797.6,521.6 L1800.6,521.6 L1803.6,521.6 L1806.6,521.5 L1809.6,521.4 L1812.6,521.2 L1815.6,521.1 L1818.6,520.8 L1821.6,520.6 L1824.6,520.3 L1827.6,520.1 L1830.6,519.9 L1833.6,519.7 L1836.6,519.4 L1839.6,519.1 L1842.6,518.7 L1845.6,518.4 L1848.6,518.0 L1851.6,517.5 L1854.6,517.0 L1857.6,516.3 L1860.6,515.5 L1863.6,514.7 L1866.6,514.0 L1869.6,513.3 L1872.6,512.6 L1875.6,512.0 L1878.6,511.3 L1881.6,510.4 L1884.6,509.3 L1887.6,508.2 L1890.6,507.0 L1893.6,505.8 L1896.6,504.6 L1899.6,503.3 L1902.6,502.1 L1905.6,500.7 L1908.6,499.4 L1911.6,498.0 L1914.6,496.6 L1917.6,495.2 L1920.6,493.6 L1923.6,492.0 L1926.6,490.4 L1929.6,488.7 L1932.6,487.1 L1935.6,485.4 L1938.6,483.8 L1941.6,482.2 L1944.6,480.5 L1947.6,478.7 L1950.6,476.7 L1953.6,474.6 L1956.6,472.3 L1959.6,470.0 L1962.6,467.7 L1965.6,465.5 L1968.6,463.4 L1971.6,461.4 L1974.6,459.4 L1977.6,457.5 L1980.6,455.5 L1983.6,453.6 L1986.6,451.6 L1989.6,449.7 L1992.6,447.7 L1995.6,445.7 L1998.6,443.7 L2001.6,441.7 L2004.6,439.7 L2007.6,437.7 L2010.6,435.6 L2013.6,433.5 L2016.6,431.4 L2019.6,429.2 L2022.6,427.0 L2025.6,424.8 L2028.6,422.6 L2031.6,420.3 L2034.6,417.9 L2037.6,415.4 L2040.6,412.9 L2043.6,410.4 L2046.6,407.9 L2049.6,405.3 L2052.6,402.6 L2055.6,399.8 L2058.6,397.1 L2061.6,394.4 L2064.6,391.9 L2067.6,389.5 L2070.6,387.1 L2073.6,384.7 L2076.6,382.3 L2079.6,380.0 L2082.6,377.8 L2085.6,375.7 L2088.6,373.9 L2091.6,372.0 L2094.6,370.3 L2097.6,368.5 L2100.6,366.7 L2103.6,365.0 L2106.6,363.4 L2109.6,361.9 L2112.6,360.6 L2115.6,359.2 L2118.6,357.9 L2121.6,356.6 L2124.6,355.3 L2127.6,354.2 L2130.6,353.1 L2133.6,352.3 L2136.6,351.5 L2139.6,350.8 L2142.6,350.1 L2145.6,349.4 L2148.6,348.8 L2151.6,348.2 L2154.6,347.7 L2157.6,347.3 L2160.6,346.9 L2163.6,346.6 L2166.6,346.2 L2169.6,345.9 L2172.6,345.6 L2175.6,345.3 L2178.6,345.0 L2181.6,344.8 L2184.6,344.7 L2187.6,344.8 L2190.6,344.9 L2193.6,345.1 L2196.6,345.5 L2199.6,345.8 L2202.6,346.2 L2205.6,346.6 L2208.6,347.1 L2211.6,347.6 L2214.6,348.2 L2217.6,349.0 L2220.6,349.9 L2223.6,350.9 L2226.6,351.9 L2229.6,352.9 L2232.6,353.9 L2235.6,355.0 L2238.6,356.1 L2241.6,357.2 L2244.6,358.4 L2247.6,359.6 L2250.6,360.8 L2253.6,362.0 L2256.6,363.2 L2259.6,364.4 L2262.6,365.6 L2265.6,366.8 L2268.6,368.1 L2271.6,369.4 L2274.6,370.8 L2277.6,372.2 L2280.6,373.7 L2283.6,375.2 L2286.6,376.7 L2289.6,378.2 L2292.6,379.7 L2295.6,381.3 L2298.6,382.9 L2301.6,384.7 L2304.6,386.6 L2307.6,388.5 L2310.6,390.5 L2313.6,392.5 L2316.6,394.6 L2319.6,396.6 L2322.6,398.6 L2325.6,400.6 L2328.6,402.6 L2331.6,404.6 L2334.6,406.6 L2337.6,408.6 L2340.6,410.6 L2343.6,412.6 L2346.6,414.5 L2349.6,416.5 L2352.6,418.5 L2355.6,420.6 L2358.6,422.6 L2361.6,424.8 L2364.6,426.9 L2367.6,429.1 L2370.6,431.4 L2373.6,433.6 L2376.6,435.8 L2379.6,438.0 L2382.6,440.2 L2385.6,442.4 L2388.6,444.8 L2391.6,447.1 L2394.6,449.6 L2397.6,452.1 L2400.6,454.5 L2403.6,457.0 L2406.6,459.5 L2409.6,461.9 L2412.6,464.4 L2415.6,466.9 L2418.6,469.2 L2421.6,471.2 L2423.0,472.8" fill="none" stroke="#a45cdc" stroke-width="2.8" stroke-linejoin="round" stroke-dasharray="5.4 3.9 14.1 3.9 5.4 3.9"/>
<path clip-path="url(#cl)" d="M154.5,641.2 L157.5,641.1 L160.5,641.0 L163.5,640.9 L166.5,640.8 L169.5,640.6 L172.5,640.5 L175.5,640.4 L178.5,640.3 L181.5,640.2 L184.5,640.1 L187.5,640.0 L190.5,639.9 L193.5,639.7 L196.5,639.6 L199.5,639.5 L202.5,639.4 L205.5,639.4 L208.5,639.3 L211.5,639.2 L214.5,639.1 L217.5,639.1 L220.5,639.0 L223.5,638.9 L226.5,638.8 L229.5,638.8 L232.5,638.7 L235.5,638.6 L238.5,638.5 L241.5,638.5 L244.5,638.4 L247.5,638.3 L250.5,638.2 L253.5,638.2 L256.5,638.1 L259.5,638.0 L262.5,638.0 L265.5,638.0 L268.5,638.0 L271.5,638.0 L274.5,638.0 L277.5,638.0 L280.5,638.0 L283.5,638.0 L286.5,638.0 L289.5,638.0 L292.5,638.0 L295.5,638.0 L298.5,638.0 L301.5,638.0 L304.5,638.0 L307.5,638.0 L310.5,638.0 L313.5,638.0 L316.5,638.0 L319.5,638.1 L322.5,638.1 L325.5,638.1 L328.5,638.1 L331.5,638.1 L334.5,638.1 L337.5,638.2 L340.5,638.2 L343.5,638.2 L346.5,638.2 L349.5,638.2 L352.5,638.2 L355.5,638.3 L358.5,638.3 L361.5,638.3 L364.5,638.3 L367.5,638.3 L370.5,638.3 L373.5,638.4 L376.5,638.4 L379.5,638.4 L382.5,638.4 L385.5,638.4 L388.5,638.4 L391.5,638.5 L394.5,638.5 L397.5,638.5 L400.5,638.5 L403.5,638.6 L406.5,638.6 L409.5,638.7 L412.5,638.7 L415.5,638.8 L418.5,638.8 L421.5,638.9 L424.5,639.0 L427.5,639.0 L430.5,639.1 L433.5,639.1 L436.5,639.2 L439.5,639.2 L442.5,639.3 L445.5,639.3 L448.5,639.4 L451.5,639.5 L454.5,639.5 L457.5,639.6 L460.5,639.6 L463.5,639.7 L466.5,639.7 L469.5,639.8 L472.5,639.9 L475.5,639.9 L478.5,640.0 L481.5,640.1 L484.5,640.2 L487.5,640.2 L490.5,640.3 L493.5,640.4 L496.5,640.5 L499.5,640.5 L502.5,640.6 L505.5,640.7 L508.5,640.8 L511.5,640.8 L514.5,640.9 L517.5,641.0 L520.5,641.1 L523.5,641.1 L526.5,641.2 L529.5,641.3 L532.5,641.4 L535.5,641.4 L538.5,641.5 L541.5,641.6 L544.5,641.8 L547.5,641.9 L550.5,642.1 L553.5,642.3 L556.5,642.5 L559.5,642.7 L562.5,642.9 L565.5,643.1 L568.5,643.2 L571.5,643.3 L574.5,643.4 L577.5,643.5 L580.5,643.5 L583.5,643.6 L586.5,643.6 L589.5,643.7 L592.5,643.7 L595.5,643.8 L598.5,643.8 L601.5,643.9 L604.5,643.9 L607.5,643.9 L610.5,644.0 L613.5,644.0 L616.5,644.1 L619.5,644.1 L622.5,644.2 L625.5,644.2 L628.5,644.2 L631.5,644.3 L634.5,644.3 L637.5,644.3 L640.5,644.3 L643.5,644.3 L646.5,644.3 L649.5,644.3 L652.5,644.3 L655.5,644.3 L658.5,644.3 L661.5,644.3 L664.5,644.3 L667.5,644.2 L670.5,644.2 L673.5,644.2 L676.5,644.2 L679.5,644.2 L682.5,644.2 L685.5,644.1 L688.5,644.1 L691.5,644.1 L694.5,644.1 L697.5,644.1 L700.5,644.0 L703.5,644.0 L706.5,644.0 L709.5,644.0 L712.5,644.0 L715.5,643.9 L718.5,643.9 L721.5,643.9 L724.5,643.9 L727.5,643.9 L730.5,643.9 L733.5,643.8 L736.5,643.8 L739.5,643.8 L742.5,643.8 L745.5,643.8 L748.5,643.9 L751.5,643.9 L754.5,643.9 L757.5,643.9 L760.5,643.9 L763.5,644.0 L766.5,644.0 L769.5,644.0 L772.5,644.0 L775.5,644.1 L778.5,644.1 L781.5,644.1 L784.5,644.1 L787.5,644.1 L790.5,644.2 L793.5,644.2 L796.5,644.2 L799.5,644.2 L802.5,644.2 L805.5,644.3 L808.5,644.3 L811.5,644.3 L814.5,644.3 L817.5,644.3 L820.5,644.3 L823.5,644.3 L826.5,644.3 L829.5,644.3 L832.5,644.3 L835.5,644.3 L838.5,644.3 L841.5,644.3 L844.5,644.3 L847.5,644.3 L850.5,644.3 L853.5,644.3 L856.5,644.3 L859.5,644.3 L862.5,644.3 L865.5,644.3 L868.5,644.3 L871.5,644.3 L874.5,644.3 L877.5,644.3 L880.5,644.3 L883.5,644.3 L886.5,644.3 L889.5,644.3 L892.5,644.3 L895.5,644.3 L898.5,644.3 L901.5,644.3 L904.5,644.3 L907.5,644.3 L910.5,644.3 L913.5,644.3 L916.5,644.3 L919.5,644.3 L922.5,644.3 L925.5,644.3 L928.5,644.3 L931.5,644.3 L934.5,644.3 L937.5,644.3 L940.5,644.3 L943.5,644.3 L946.5,644.3 L949.5,644.3 L952.5,644.3 L955.5,644.3 L958.5,644.3 L961.5,644.3 L964.5,644.3 L967.5,644.3 L970.5,644.3 L973.5,644.3 L976.5,644.3 L979.5,644.3 L982.5,644.3 L985.5,644.3 L988.5,644.3 L991.5,644.3 L994.5,644.3 L997.5,644.3 L1000.5,644.2 L1003.5,644.1 L1006.5,644.0 L1009.5,643.8 L1012.5,643.7 L1015.5,643.5 L1018.5,643.3 L1021.5,643.2 L1024.5,643.1 L1027.5,643.0 L1030.5,643.0 L1033.5,643.0 L1036.5,643.0 L1039.5,643.0 L1042.5,643.0 L1045.5,643.0 L1048.5,643.0 L1051.5,643.1 L1054.5,643.1 L1057.5,643.2 L1060.5,643.3 L1063.5,643.4 L1066.5,643.4 L1069.5,643.5 L1072.5,643.6 L1075.5,643.7 L1078.5,643.7 L1081.5,643.8 L1084.5,643.9 L1087.5,644.0 L1090.5,644.1 L1093.5,644.1 L1096.5,644.2 L1099.5,644.2 L1102.5,644.3 L1105.5,644.2 L1108.5,644.2 L1111.5,644.2 L1114.5,644.2 L1117.5,644.1 L1120.5,644.1 L1123.5,644.1 L1126.5,644.0 L1129.5,644.0 L1132.5,644.0 L1135.5,644.0 L1138.5,643.9 L1141.5,643.9 L1144.5,643.9 L1147.5,643.8 L1150.5,643.8 L1153.5,643.8 L1156.5,643.8 L1159.5,643.7 L1162.0,643.7" fill="none" stroke="#3c3cf6" stroke-width="2.4" stroke-linejoin="round" stroke-dasharray="4.2 3.8 15.6 3.8"/>
<path clip-path="url(#cr)" d="M1440.9,542.5 L1443.9,543.6 L1446.9,544.7 L1449.9,545.8 L1452.9,546.7 L1455.9,547.6 L1458.9,548.5 L1461.9,549.5 L1464.9,550.5 L1467.9,551.5 L1470.9,552.6 L1473.9,553.5 L1476.9,554.4 L1479.9,555.3 L1482.9,556.2 L1485.9,557.0 L1488.9,557.8 L1491.9,558.5 L1494.9,559.1 L1497.9,559.8 L1500.9,560.5 L1503.9,561.2 L1506.9,562.0 L1509.9,562.9 L1512.9,563.7 L1515.9,564.5 L1518.9,565.3 L1521.9,566.1 L1524.9,566.9 L1527.9,567.6 L1530.9,568.4 L1533.9,569.1 L1536.9,569.8 L1539.9,570.4 L1542.9,571.0 L1545.9,571.6 L1548.9,572.0 L1551.9,572.3 L1554.9,572.6 L1557.9,572.9 L1560.9,573.1 L1563.9,573.3 L1566.9,573.5 L1569.9,573.7 L1572.9,573.8 L1575.9,573.9 L1578.9,573.9 L1581.9,573.6 L1584.9,573.3 L1587.9,572.8 L1590.9,572.5 L1593.9,572.1 L1596.9,571.9 L1599.9,571.7 L1602.9,571.5 L1605.9,571.3 L1608.9,571.1 L1611.9,570.9 L1614.9,570.7 L1617.9,570.4 L1620.9,570.2 L1623.9,569.8 L1626.9,569.3 L1629.9,568.5 L1632.9,567.7 L1635.9,566.9 L1638.9,566.1 L1641.9,565.5 L1644.9,565.0 L1647.9,564.6 L1650.9,564.3 L1653.9,564.0 L1656.9,563.7 L1659.9,563.4 L1662.9,563.1 L1665.9,562.8 L1668.9,562.4 L1671.9,562.0 L1674.9,561.5 L1677.9,561.1 L1680.9,560.7 L1683.9,560.3 L1686.9,559.9 L1689.9,559.4 L1692.9,558.8 L1695.9,558.3 L1698.9,557.7 L1701.9,557.2 L1704.9,556.8 L1707.9,556.4 L1710.9,556.0 L1713.9,555.7 L1716.9,555.5 L1719.9,555.4 L1722.9,555.4 L1725.9,555.4 L1728.9,555.5 L1731.9,555.7 L1734.9,555.9 L1737.9,556.1 L1740.9,556.3 L1743.9,556.5 L1746.9,556.6 L1749.9,556.8 L1752.9,556.9 L1755.9,557.0 L1758.9,557.2 L1761.9,557.5 L1764.9,557.9 L1767.9,558.3 L1770.9,558.7 L1773.9,559.0 L1776.9,559.1 L1779.9,559.0 L1782.9,558.8 L1785.9,558.5 L1788.9,558.4 L1791.9,558.2 L1794.9,558.0 L1797.9,557.9 L1800.9,557.7 L1803.9,557.4 L1806.9,557.1 L1809.9,556.8 L1812.9,556.3 L1815.9,555.8 L1818.9,555.2 L1821.9,554.6 L1824.9,554.0 L1827.9,553.3 L1830.9,552.5 L1833.9,551.7 L1836.9,550.9 L1839.9,550.1 L1842.9,549.2 L1845.9,548.3 L1848.9,547.4 L1851.9,546.4 L1854.9,545.5 L1857.9,544.4 L1860.9,543.2 L1863.9,541.9 L1866.9,540.5 L1869.9,539.0 L1872.9,537.5 L1875.9,536.0 L1878.9,534.5 L1881.9,532.9 L1884.9,531.2 L1887.9,529.5 L1890.9,527.8 L1893.9,526.1 L1896.9,524.4 L1899.9,522.6 L1902.9,520.7 L1905.9,518.8 L1908.9,516.8 L1911.9,514.8 L1914.9,512.7 L1917.9,510.5 L1920.9,508.2 L1923.9,505.9 L1926.9,503.5 L1929.9,501.1 L1932.9,498.9 L1935.9,496.9 L1938.9,495.1 L1941.9,493.3 L1944.9,491.6 L1947.9,489.9 L1950.9,488.2 L1953.9,486.5 L1956.9,484.9 L1959.9,483.3 L1962.9,481.7 L1965.9,480.2 L1968.9,478.8 L1971.9,477.5 L1974.9,476.4 L1977.9,475.4 L1980.9,474.4 L1983.9,473.4 L1986.9,472.3 L1989.9,471.2 L1992.9,469.8 L1995.9,468.4 L1998.9,466.9 L2001.9,465.2 L2004.9,463.3 L2007.9,461.1 L2010.9,458.8 L2013.9,456.4 L2016.9,453.9 L2019.9,451.3 L2022.9,448.5 L2025.9,445.8 L2028.9,443.0 L2031.9,440.2 L2034.9,437.5 L2037.9,434.9 L2040.9,432.6 L2043.9,430.5 L2046.9,428.4 L2049.9,426.3 L2052.9,424.3 L2055.9,422.3 L2058.9,420.4 L2061.9,418.7 L2064.9,417.1 L2067.9,415.5 L2070.9,414.0 L2073.9,412.6 L2076.9,411.1 L2079.9,409.6 L2082.9,408.2 L2085.9,406.9 L2088.9,405.7 L2091.9,404.5 L2094.9,403.3 L2097.9,402.1 L2100.9,400.9 L2103.9,399.8 L2106.9,398.7 L2109.9,397.8 L2112.9,397.0 L2115.9,396.2 L2118.9,395.4 L2121.9,394.6 L2124.9,393.8 L2127.9,393.1 L2130.9,392.5 L2133.9,391.9 L2136.9,391.5 L2139.9,391.0 L2142.9,390.7 L2145.9,390.5 L2148.9,390.4 L2151.9,390.5 L2154.9,390.6 L2157.9,390.7 L2160.9,390.9 L2163.9,391.1 L2166.9,391.4 L2169.9,391.9 L2172.9,392.3 L2175.9,392.9 L2178.9,393.4 L2181.9,394.0 L2184.9,394.8 L2187.9,395.6 L2190.9,396.6 L2193.9,397.6 L2196.9,398.6 L2199.9,399.6 L2202.9,400.6 L2205.9,401.7 L2208.9,402.8 L2211.9,403.9 L2214.9,405.1 L2217.9,406.3 L2220.9,407.6 L2223.9,408.8 L2226.9,410.0 L2229.9,411.4 L2232.9,412.9 L2235.9,414.4 L2238.9,416.0 L2241.9,417.6 L2244.9,419.2 L2247.9,420.8 L2250.9,422.4 L2253.9,424.1 L2256.9,425.8 L2259.9,427.5 L2262.9,429.2 L2265.9,430.9 L2268.9,432.7 L2271.9,434.6 L2274.9,436.5 L2277.9,438.6 L2280.9,440.8 L2283.9,442.9 L2286.9,445.0 L2289.9,447.2 L2292.9,449.3 L2295.9,451.5 L2298.9,453.6 L2301.9,455.7 L2304.9,457.8 L2307.9,459.9 L2310.9,462.0 L2313.9,464.1 L2316.9,466.2 L2319.9,468.3 L2322.9,470.5 L2325.9,472.6 L2328.9,474.8 L2331.9,477.0 L2334.9,479.3 L2337.9,481.5 L2340.9,483.8 L2343.9,486.2 L2346.9,488.5 L2349.9,490.8 L2352.9,493.0 L2355.9,495.3 L2358.9,497.6 L2361.9,499.8 L2364.9,502.1 L2367.9,504.3 L2370.9,506.5 L2373.9,508.7 L2376.9,510.9 L2379.9,513.1 L2382.9,515.3 L2385.9,517.5 L2388.9,519.6 L2391.9,521.7 L2394.9,523.7 L2397.9,525.7 L2400.9,527.7 L2403.9,529.7 L2406.9,531.7 L2409.9,533.7 L2412.9,535.7 L2415.9,537.7 L2418.9,539.6 L2421.9,541.1 L2423.0,542.3" fill="none" stroke="#3c3cf6" stroke-width="2.8" stroke-linejoin="round" stroke-dasharray="5.5 3.6 19 3.6"/>
<path clip-path="url(#cl)" d="M154.5,719.0 L157.5,719.0 L160.5,718.9 L163.5,718.9 L166.5,718.9 L169.5,718.8 L172.5,718.8 L175.5,718.8 L178.5,718.7 L181.5,718.7 L184.5,718.7 L187.5,718.6 L190.5,718.6 L193.5,718.6 L196.5,718.5 L199.5,718.5 L202.5,718.4 L205.5,718.3 L208.5,718.1 L211.5,718.0 L214.5,717.9 L217.5,717.8 L220.5,717.6 L223.5,717.5 L226.5,717.4 L229.5,717.2 L232.5,717.1 L235.5,717.0 L238.5,716.9 L241.5,716.8 L244.5,716.8 L247.5,716.8 L250.5,716.8 L253.5,716.8 L256.5,716.8 L259.5,716.8 L262.5,716.8 L265.5,716.8 L268.5,716.8 L271.5,716.8 L274.5,716.8 L277.5,716.8 L280.5,716.8 L283.5,716.8 L286.5,716.8 L289.5,716.8 L292.5,716.8 L295.5,716.8 L298.5,716.8 L301.5,716.8 L304.5,716.9 L307.5,716.9 L310.5,717.0 L313.5,717.0 L316.5,717.1 L319.5,717.1 L322.5,717.2 L325.5,717.2 L328.5,717.3 L331.5,717.3 L334.5,717.4 L337.5,717.4 L340.5,717.5 L343.5,717.5 L346.5,717.6 L349.5,717.6 L352.5,717.7 L355.5,717.8 L358.5,717.8 L361.5,717.9 L364.5,717.9 L367.5,718.0 L370.5,718.0 L373.5,718.1 L376.5,718.2 L379.5,718.3 L382.5,718.3 L385.5,718.4 L388.5,718.5 L391.5,718.6 L394.5,718.7 L397.5,718.7 L400.5,718.8 L403.5,718.9 L406.5,719.0 L409.5,719.1 L412.5,719.2 L415.5,719.2 L418.5,719.3 L421.5,719.4 L424.5,719.5 L427.5,719.6 L430.5,719.6 L433.5,719.7 L436.5,719.8 L439.5,719.8 L442.5,719.9 L445.5,719.9 L448.5,719.9 L451.5,719.9 L454.5,719.9 L457.5,719.9 L460.5,719.9 L463.5,719.9 L466.5,719.9 L469.5,719.9 L472.5,719.9 L475.5,719.9 L478.5,719.9 L481.5,719.9 L484.5,719.9 L487.5,719.9 L490.5,719.9 L493.5,719.9 L496.5,719.9 L499.5,719.9 L502.5,719.9 L505.5,719.9 L508.5,719.9 L511.5,719.9 L514.5,719.9 L517.5,719.9 L520.5,719.9 L523.5,720.0 L526.5,720.0 L529.5,720.1 L532.5,720.3 L535.5,720.4 L538.5,720.5 L541.5,720.6 L544.5,720.8 L547.5,720.9 L550.5,721.0 L553.5,721.2 L556.5,721.3 L559.5,721.4 L562.5,721.5 L565.5,721.7 L568.5,721.8 L571.5,721.9 L574.5,722.0 L577.5,722.1 L580.5,722.2 L583.5,722.2 L586.5,722.2 L589.5,722.2 L592.5,722.2 L595.5,722.2 L598.5,722.2 L601.5,722.2 L604.5,722.2 L607.5,722.2 L610.5,722.2 L613.5,722.2 L616.5,722.2 L619.5,722.2 L622.5,722.2 L625.5,722.2 L628.5,722.2 L631.5,722.2 L634.5,722.2 L637.5,722.2 L640.5,722.2 L643.5,722.2 L646.5,722.2 L649.5,722.2 L652.5,722.2 L655.5,722.2 L658.5,722.2 L661.5,722.2 L664.5,722.2 L667.5,722.2 L670.5,722.2 L673.5,722.2 L676.5,722.2 L679.5,722.2 L682.5,722.2 L685.5,722.2 L688.5,722.2 L691.5,722.2 L694.5,722.2 L697.5,722.2 L700.5,722.2 L703.5,722.2 L706.5,722.2 L709.5,722.2 L712.5,722.2 L715.5,722.2 L718.5,722.2 L721.5,722.2 L724.5,722.2 L727.5,722.2 L730.5,722.2 L733.5,722.2 L736.5,722.2 L739.5,722.2 L742.5,722.2 L745.5,722.1 L748.5,722.1 L751.5,722.1 L754.5,722.1 L757.5,722.0 L760.5,722.0 L763.5,722.0 L766.5,721.9 L769.5,721.9 L772.5,721.9 L775.5,721.8 L778.5,721.8 L781.5,721.8 L784.5,721.8 L787.5,721.7 L790.5,721.7 L793.5,721.7 L796.5,721.6 L799.5,721.6 L802.5,721.6 L805.5,721.6 L808.5,721.5 L811.5,721.5 L814.5,721.5 L817.5,721.5 L820.5,721.5 L823.5,721.5 L826.5,721.4 L829.5,721.4 L832.5,721.4 L835.5,721.4 L838.5,721.4 L841.5,721.3 L844.5,721.3 L847.5,721.3 L850.5,721.3 L853.5,721.3 L856.5,721.2 L859.5,721.2 L862.5,721.2 L865.5,721.2 L868.5,721.2 L871.5,721.2 L874.5,721.1 L877.5,721.1 L880.5,721.1 L883.5,721.1 L886.5,721.1 L889.5,721.0 L892.5,721.0 L895.5,721.0 L898.5,721.0 L901.5,721.0 L904.5,720.9 L907.5,720.9 L910.5,720.9 L913.5,720.9 L916.5,720.9 L919.5,720.9 L922.5,720.8 L925.5,720.8 L928.5,720.8 L931.5,720.8 L934.5,720.8 L937.5,720.7 L940.5,720.7 L943.5,720.7 L946.5,720.7 L949.5,720.7 L952.5,720.6 L955.5,720.6 L958.5,720.6 L961.5,720.6 L964.5,720.6 L967.5,720.6 L970.5,720.5 L973.5,720.5 L976.5,720.5 L979.5,720.5 L982.5,720.5 L985.5,720.4 L988.5,720.4 L991.5,720.4 L994.5,720.5 L997.5,720.5 L1000.5,720.6 L1003.5,720.6 L1006.5,720.7 L1009.5,720.7 L1012.5,720.8 L1015.5,720.8 L1018.5,720.9 L1021.5,720.9 L1024.5,721.0 L1027.5,721.1 L1030.5,721.1 L1033.5,721.2 L1036.5,721.2 L1039.5,721.3 L1042.5,721.3 L1045.5,721.4 L1048.5,721.5 L1051.5,721.5 L1054.5,721.6 L1057.5,721.6 L1060.5,721.7 L1063.5,721.7 L1066.5,721.8 L1069.5,721.9 L1072.5,721.9 L1075.5,722.0 L1078.5,722.0 L1081.5,722.1 L1084.5,722.1 L1087.5,722.1 L1090.5,722.1 L1093.5,722.1 L1096.5,722.0 L1099.5,721.9 L1102.5,721.8 L1105.5,721.8 L1108.5,721.7 L1111.5,721.6 L1114.5,721.6 L1117.5,721.5 L1120.5,721.4 L1123.5,721.3 L1126.5,721.3 L1129.5,721.2 L1132.5,721.1 L1135.5,721.0 L1138.5,721.0 L1141.5,720.9 L1144.5,720.8 L1147.5,720.8 L1150.5,720.7 L1153.5,720.6 L1156.5,720.5 L1159.5,720.5 L1162.0,720.4" fill="none" stroke="#ff3232" stroke-width="2.4" stroke-linejoin="round" stroke-dasharray="16 4"/>
<path clip-path="url(#cr)" d="M1440.9,637.4 L1443.9,638.3 L1446.9,639.1 L1449.9,640.0 L1452.9,641.0 L1455.9,642.0 L1458.9,643.0 L1461.9,644.1 L1464.9,645.1 L1467.9,646.0 L1470.9,646.9 L1473.9,647.7 L1476.9,648.4 L1479.9,649.2 L1482.9,649.9 L1485.9,650.7 L1488.9,651.4 L1491.9,652.1 L1494.9,652.7 L1497.9,653.2 L1500.9,653.6 L1503.9,653.9 L1506.9,654.2 L1509.9,654.4 L1512.9,654.6 L1515.9,654.8 L1518.9,654.9 L1521.9,654.9 L1524.9,654.9 L1527.9,654.9 L1530.9,654.9 L1533.9,655.1 L1536.9,655.2 L1539.9,655.5 L1542.9,655.9 L1545.9,656.3 L1548.9,657.0 L1551.9,657.9 L1554.9,659.0 L1557.9,660.3 L1560.9,661.7 L1563.9,663.2 L1566.9,664.8 L1569.9,666.3 L1572.9,667.5 L1575.9,668.4 L1578.9,668.9 L1581.9,669.1 L1584.9,669.1 L1587.9,668.7 L1590.9,667.8 L1593.9,666.6 L1596.9,665.2 L1599.9,663.7 L1602.9,662.1 L1605.9,660.5 L1608.9,659.1 L1611.9,657.7 L1614.9,656.4 L1617.9,655.2 L1620.9,654.0 L1623.9,652.8 L1626.9,651.7 L1629.9,650.7 L1632.9,649.8 L1635.9,648.9 L1638.9,648.2 L1641.9,647.6 L1644.9,647.2 L1647.9,647.0 L1650.9,646.7 L1653.9,646.2 L1656.9,645.7 L1659.9,645.2 L1662.9,644.9 L1665.9,644.8 L1668.9,644.7 L1671.9,644.6 L1674.9,644.2 L1677.9,643.6 L1680.9,643.0 L1683.9,642.3 L1686.9,641.7 L1689.9,641.1 L1692.9,640.6 L1695.9,640.0 L1698.9,639.5 L1701.9,638.9 L1704.9,638.3 L1707.9,637.6 L1710.9,636.8 L1713.9,636.0 L1716.9,635.3 L1719.9,634.5 L1722.9,633.8 L1725.9,633.2 L1728.9,632.7 L1731.9,632.2 L1734.9,631.6 L1737.9,630.8 L1740.9,629.9 L1743.9,628.8 L1746.9,627.8 L1749.9,626.8 L1752.9,626.1 L1755.9,625.5 L1758.9,625.1 L1761.9,624.8 L1764.9,624.4 L1767.9,624.0 L1770.9,623.4 L1773.9,622.8 L1776.9,622.2 L1779.9,621.5 L1782.9,620.8 L1785.9,620.0 L1788.9,619.2 L1791.9,618.3 L1794.9,617.5 L1797.9,616.6 L1800.9,615.7 L1803.9,614.8 L1806.9,613.8 L1809.9,612.9 L1812.9,611.9 L1815.9,610.9 L1818.9,609.9 L1821.9,608.9 L1824.9,607.8 L1827.9,606.8 L1830.9,605.7 L1833.9,604.6 L1836.9,603.5 L1839.9,602.4 L1842.9,601.3 L1845.9,600.1 L1848.9,599.0 L1851.9,597.8 L1854.9,596.6 L1857.9,595.5 L1860.9,594.3 L1863.9,593.0 L1866.9,591.6 L1869.9,590.0 L1872.9,588.4 L1875.9,586.7 L1878.9,584.9 L1881.9,583.2 L1884.9,581.5 L1887.9,579.9 L1890.9,578.4 L1893.9,576.9 L1896.9,575.4 L1899.9,573.9 L1902.9,572.5 L1905.9,571.0 L1908.9,569.5 L1911.9,567.9 L1914.9,566.4 L1917.9,564.8 L1920.9,563.2 L1923.9,561.6 L1926.9,559.9 L1929.9,558.2 L1932.9,556.4 L1935.9,554.6 L1938.9,552.6 L1941.9,550.7 L1944.9,548.7 L1947.9,546.8 L1950.9,544.9 L1953.9,543.0 L1956.9,541.1 L1959.9,539.2 L1962.9,537.3 L1965.9,535.4 L1968.9,533.4 L1971.9,531.4 L1974.9,529.3 L1977.9,527.2 L1980.9,525.1 L1983.9,523.0 L1986.9,520.8 L1989.9,518.6 L1992.9,516.4 L1995.9,514.2 L1998.9,512.0 L2001.9,509.8 L2004.9,507.7 L2007.9,505.7 L2010.9,503.6 L2013.9,501.7 L2016.9,499.7 L2019.9,497.7 L2022.9,495.7 L2025.9,493.8 L2028.9,492.0 L2031.9,490.1 L2034.9,488.3 L2037.9,486.5 L2040.9,484.8 L2043.9,483.1 L2046.9,481.6 L2049.9,480.2 L2052.9,478.9 L2055.9,477.6 L2058.9,476.3 L2061.9,475.0 L2064.9,473.6 L2067.9,472.2 L2070.9,470.8 L2073.9,469.4 L2076.9,468.0 L2079.9,466.7 L2082.9,465.6 L2085.9,464.7 L2088.9,464.0 L2091.9,463.3 L2094.9,462.7 L2097.9,462.1 L2100.9,461.5 L2103.9,461.0 L2106.9,460.5 L2109.9,460.2 L2112.9,460.0 L2115.9,459.8 L2118.9,459.6 L2121.9,459.4 L2124.9,459.2 L2127.9,459.1 L2130.9,459.1 L2133.9,459.2 L2136.9,459.3 L2139.9,459.5 L2142.9,459.7 L2145.9,460.1 L2148.9,460.7 L2151.9,461.3 L2154.9,462.0 L2157.9,462.7 L2160.9,463.4 L2163.9,464.2 L2166.9,464.9 L2169.9,465.6 L2172.9,466.4 L2175.9,467.2 L2178.9,468.0 L2181.9,468.8 L2184.9,469.6 L2187.9,470.4 L2190.9,471.5 L2193.9,472.6 L2196.9,474.0 L2199.9,475.4 L2202.9,476.8 L2205.9,478.3 L2208.9,479.8 L2211.9,481.5 L2214.9,483.2 L2217.9,485.1 L2220.9,486.9 L2223.9,488.7 L2226.9,490.5 L2229.9,492.4 L2232.9,494.2 L2235.9,496.1 L2238.9,498.1 L2241.9,500.2 L2244.9,502.6 L2247.9,505.0 L2250.9,507.4 L2253.9,509.9 L2256.9,512.4 L2259.9,514.8 L2262.9,517.3 L2265.9,519.7 L2268.9,522.2 L2271.9,524.6 L2274.9,527.0 L2277.9,529.4 L2280.9,531.8 L2283.9,534.2 L2286.9,536.6 L2289.9,539.0 L2292.9,541.4 L2295.9,543.8 L2298.9,546.3 L2301.9,549.0 L2304.9,551.8 L2307.9,554.6 L2310.9,557.5 L2313.9,560.4 L2316.9,563.3 L2319.9,566.3 L2322.9,569.2 L2325.9,572.2 L2328.9,575.1 L2331.9,577.9 L2334.9,580.7 L2337.9,583.3 L2340.9,585.9 L2343.9,588.5 L2346.9,591.1 L2349.9,593.7 L2352.9,596.3 L2355.9,598.9 L2358.9,601.5 L2361.9,604.1 L2364.9,606.6 L2367.9,609.0 L2370.9,611.2 L2373.9,613.4 L2376.9,615.5 L2379.9,617.7 L2382.9,619.8 L2385.9,621.9 L2388.9,624.0 L2391.9,626.1 L2394.9,628.2 L2397.9,630.2 L2400.9,632.1 L2403.9,633.8 L2406.9,635.3 L2409.9,636.6 L2412.9,637.9 L2415.9,639.2 L2418.9,640.3 L2421.9,641.3 L2423.0,642.1" fill="none" stroke="#ff3232" stroke-width="2.8" stroke-linejoin="round" stroke-dasharray="19 4"/>
<path clip-path="url(#cl)" d="M154.5,843.6 L157.5,843.4 L160.5,843.3 L163.5,843.1 L166.5,843.0 L169.5,842.8 L172.5,842.7 L175.5,842.5 L178.5,842.3 L181.5,842.2 L184.5,842.0 L187.5,841.9 L190.5,841.7 L193.5,841.5 L196.5,841.4 L199.5,841.2 L202.5,841.1 L205.5,840.9 L208.5,840.8 L211.5,840.6 L214.5,840.4 L217.5,840.3 L220.5,840.1 L223.5,840.0 L226.5,839.8 L229.5,839.6 L232.5,839.5 L235.5,839.3 L238.5,839.2 L241.5,839.0 L244.5,838.9 L247.5,838.7 L250.5,838.6 L253.5,838.5 L256.5,838.4 L259.5,838.4 L262.5,838.5 L265.5,838.5 L268.5,838.6 L271.5,838.7 L274.5,838.8 L277.5,838.8 L280.5,838.9 L283.5,839.0 L286.5,839.0 L289.5,839.1 L292.5,839.2 L295.5,839.2 L298.5,839.3 L301.5,839.4 L304.5,839.5 L307.5,839.5 L310.5,839.6 L313.5,839.7 L316.5,839.7 L319.5,839.8 L322.5,839.9 L325.5,840.0 L328.5,840.1 L331.5,840.2 L334.5,840.3 L337.5,840.4 L340.5,840.6 L343.5,840.7 L346.5,840.9 L349.5,841.0 L352.5,841.1 L355.5,841.3 L358.5,841.4 L361.5,841.5 L364.5,841.7 L367.5,841.8 L370.5,842.0 L373.5,842.1 L376.5,842.2 L379.5,842.4 L382.5,842.5 L385.5,842.7 L388.5,842.8 L391.5,842.9 L394.5,843.1 L397.5,843.2 L400.5,843.3 L403.5,843.5 L406.5,843.6 L409.5,843.6 L412.5,843.7 L415.5,843.7 L418.5,843.7 L421.5,843.8 L424.5,843.8 L427.5,843.9 L430.5,843.9 L433.5,843.9 L436.5,844.0 L439.5,844.0 L442.5,844.0 L445.5,844.1 L448.5,844.1 L451.5,844.1 L454.5,844.2 L457.5,844.2 L460.5,844.2 L463.5,844.3 L466.5,844.3 L469.5,844.4 L472.5,844.4 L475.5,844.5 L478.5,844.6 L481.5,844.6 L484.5,844.7 L487.5,844.8 L490.5,844.9 L493.5,845.0 L496.5,845.1 L499.5,845.2 L502.5,845.3 L505.5,845.4 L508.5,845.5 L511.5,845.6 L514.5,845.7 L517.5,845.8 L520.5,845.9 L523.5,846.0 L526.5,846.1 L529.5,846.2 L532.5,846.3 L535.5,846.4 L538.5,846.5 L541.5,846.6 L544.5,846.7 L547.5,846.8 L550.5,846.9 L553.5,847.1 L556.5,847.2 L559.5,847.3 L562.5,847.4 L565.5,847.6 L568.5,847.7 L571.5,847.8 L574.5,847.9 L577.5,848.1 L580.5,848.2 L583.5,848.3 L586.5,848.4 L589.5,848.6 L592.5,848.6 L595.5,848.7 L598.5,848.7 L601.5,848.7 L604.5,848.7 L607.5,848.7 L610.5,848.7 L613.5,848.7 L616.5,848.7 L619.5,848.7 L622.5,848.7 L625.5,848.7 L628.5,848.7 L631.5,848.7 L634.5,848.7 L637.5,848.7 L640.5,848.7 L643.5,848.7 L646.5,848.7 L649.5,848.7 L652.5,848.7 L655.5,848.7 L658.5,848.7 L661.5,848.6 L664.5,848.5 L667.5,848.5 L670.5,848.4 L673.5,848.3 L676.5,848.3 L679.5,848.2 L682.5,848.1 L685.5,848.1 L688.5,848.0 L691.5,847.9 L694.5,847.9 L697.5,847.8 L700.5,847.7 L703.5,847.7 L706.5,847.6 L709.5,847.5 L712.5,847.4 L715.5,847.4 L718.5,847.3 L721.5,847.2 L724.5,847.2 L727.5,847.1 L730.5,847.0 L733.5,847.0 L736.5,846.9 L739.5,846.8 L742.5,846.7 L745.5,846.7 L748.5,846.6 L751.5,846.6 L754.5,846.6 L757.5,846.6 L760.5,846.6 L763.5,846.6 L766.5,846.6 L769.5,846.6 L772.5,846.6 L775.5,846.6 L778.5,846.6 L781.5,846.6 L784.5,846.6 L787.5,846.6 L790.5,846.6 L793.5,846.6 L796.5,846.6 L799.5,846.6 L802.5,846.6 L805.5,846.6 L808.5,846.6 L811.5,846.6 L814.5,846.6 L817.5,846.6 L820.5,846.6 L823.5,846.6 L826.5,846.6 L829.5,846.6 L832.5,846.6 L835.5,846.6 L838.5,846.6 L841.5,846.6 L844.5,846.6 L847.5,846.6 L850.5,846.6 L853.5,846.6 L856.5,846.6 L859.5,846.6 L862.5,846.6 L865.5,846.6 L868.5,846.6 L871.5,846.6 L874.5,846.6 L877.5,846.6 L880.5,846.6 L883.5,846.6 L886.5,846.6 L889.5,846.6 L892.5,846.6 L895.5,846.6 L898.5,846.6 L901.5,846.5 L904.5,846.4 L907.5,846.4 L910.5,846.3 L913.5,846.2 L916.5,846.1 L919.5,846.0 L922.5,845.9 L925.5,845.8 L928.5,845.7 L931.5,845.6 L934.5,845.5 L937.5,845.4 L940.5,845.3 L943.5,845.2 L946.5,845.1 L949.5,845.0 L952.5,844.9 L955.5,844.8 L958.5,844.7 L961.5,844.6 L964.5,844.5 L967.5,844.4 L970.5,844.3 L973.5,844.2 L976.5,844.1 L979.5,844.1 L982.5,844.0 L985.5,843.9 L988.5,843.8 L991.5,843.8 L994.5,843.7 L997.5,843.6 L1000.5,843.5 L1003.5,843.4 L1006.5,843.4 L1009.5,843.3 L1012.5,843.2 L1015.5,843.1 L1018.5,843.1 L1021.5,843.0 L1024.5,842.9 L1027.5,842.8 L1030.5,842.8 L1033.5,842.7 L1036.5,842.7 L1039.5,842.8 L1042.5,843.0 L1045.5,843.1 L1048.5,843.3 L1051.5,843.5 L1054.5,843.6 L1057.5,843.8 L1060.5,844.0 L1063.5,844.1 L1066.5,844.3 L1069.5,844.4 L1072.5,844.6 L1075.5,844.7 L1078.5,844.8 L1081.5,844.9 L1084.5,844.8 L1087.5,844.7 L1090.5,844.6 L1093.5,844.5 L1096.5,844.4 L1099.5,844.3 L1102.5,844.2 L1105.5,844.1 L1108.5,843.9 L1111.5,843.8 L1114.5,843.7 L1117.5,843.6 L1120.5,843.5 L1123.5,843.4 L1126.5,843.3 L1129.5,843.2 L1132.5,843.1 L1135.5,843.0 L1138.5,842.9 L1141.5,842.7 L1144.5,842.6 L1147.5,842.5 L1150.5,842.4 L1153.5,842.3 L1156.5,842.2 L1159.5,842.1 L1162.0,842.0" fill="none" stroke="#383838" stroke-width="2.4" stroke-linejoin="round"/>
<path clip-path="url(#cr)" d="M1440.6,816.5 L1443.6,818.0 L1446.6,819.6 L1449.6,821.2 L1452.6,822.9 L1455.6,824.7 L1458.6,826.5 L1461.6,828.2 L1464.6,829.9 L1467.6,831.6 L1470.6,833.6 L1473.6,835.9 L1476.6,838.3 L1479.6,840.9 L1482.6,843.5 L1485.6,846.2 L1488.6,848.9 L1491.6,851.9 L1494.6,855.1 L1497.6,858.3 L1500.6,861.5 L1503.6,864.8 L1506.6,868.2 L1509.6,871.5 L1512.6,874.7 L1515.6,877.5 L1518.6,880.1 L1521.6,882.3 L1524.6,884.4 L1527.6,886.3 L1530.6,887.9 L1533.6,889.1 L1536.6,890.0 L1539.6,890.8 L1542.6,891.4 L1545.6,891.8 L1548.6,892.1 L1551.6,892.0 L1554.6,891.7 L1557.6,891.3 L1560.6,890.7 L1563.6,890.0 L1566.6,889.2 L1569.6,888.3 L1572.6,887.5 L1575.6,886.5 L1578.6,885.6 L1581.6,884.5 L1584.6,883.3 L1587.6,882.1 L1590.6,880.8 L1593.6,879.4 L1596.6,878.1 L1599.6,876.7 L1602.6,875.2 L1605.6,873.4 L1608.6,871.5 L1611.6,869.4 L1614.6,866.9 L1617.6,864.1 L1620.6,860.9 L1623.6,857.4 L1626.6,853.8 L1629.6,850.2 L1632.6,846.5 L1635.6,842.9 L1638.6,839.2 L1641.6,835.6 L1644.6,832.1 L1647.6,829.1 L1650.6,826.3 L1653.6,823.9 L1656.6,821.5 L1659.6,819.0 L1662.6,816.4 L1665.6,813.6 L1668.6,810.6 L1671.6,807.6 L1674.6,804.3 L1677.6,800.9 L1680.6,797.5 L1683.6,794.5 L1686.6,792.1 L1689.6,789.9 L1692.6,787.5 L1695.6,784.7 L1698.6,781.8 L1701.6,778.9 L1704.6,776.1 L1707.6,773.6 L1710.6,771.3 L1713.6,769.2 L1716.6,767.3 L1719.6,765.6 L1722.6,764.0 L1725.6,762.4 L1728.6,760.9 L1731.6,759.3 L1734.6,757.7 L1737.6,755.9 L1740.6,754.1 L1743.6,752.4 L1746.6,750.6 L1749.6,749.0 L1752.6,747.3 L1755.6,745.5 L1758.6,743.7 L1761.6,741.6 L1764.6,739.2 L1767.6,736.7 L1770.6,734.3 L1773.6,731.8 L1776.6,729.3 L1779.6,726.6 L1782.6,723.8 L1785.6,721.0 L1788.6,718.2 L1791.6,715.6 L1794.6,713.1 L1797.6,710.9 L1800.6,708.8 L1803.6,706.6 L1806.6,704.3 L1809.6,702.0 L1812.6,699.7 L1815.6,697.4 L1818.6,695.1 L1821.6,692.8 L1824.6,690.8 L1827.6,689.1 L1830.6,687.6 L1833.6,686.3 L1836.6,685.1 L1839.6,683.8 L1842.6,682.6 L1845.6,681.3 L1848.6,679.9 L1851.6,678.5 L1854.6,677.1 L1857.6,675.6 L1860.6,674.2 L1863.6,672.8 L1866.6,671.3 L1869.6,669.9 L1872.6,668.4 L1875.6,666.7 L1878.6,665.0 L1881.6,663.0 L1884.6,661.1 L1887.6,659.1 L1890.6,657.1 L1893.6,655.3 L1896.6,653.6 L1899.6,652.0 L1902.6,650.5 L1905.6,649.0 L1908.6,647.5 L1911.6,646.0 L1914.6,644.4 L1917.6,642.8 L1920.6,641.0 L1923.6,639.0 L1926.6,637.1 L1929.6,635.1 L1932.6,633.2 L1935.6,631.5 L1938.6,629.8 L1941.6,628.1 L1944.6,626.4 L1947.6,624.8 L1950.6,623.1 L1953.6,621.4 L1956.6,619.8 L1959.6,618.2 L1962.6,616.6 L1965.6,615.0 L1968.6,613.4 L1971.6,611.7 L1974.6,610.0 L1977.6,608.3 L1980.6,606.6 L1983.6,604.9 L1986.6,603.2 L1989.6,601.5 L1992.6,599.7 L1995.6,598.0 L1998.6,596.3 L2001.6,594.7 L2004.6,593.0 L2007.6,591.4 L2010.6,589.8 L2013.6,588.2 L2016.6,586.7 L2019.6,585.2 L2022.6,583.9 L2025.6,582.5 L2028.6,581.2 L2031.6,579.9 L2034.6,578.7 L2037.6,577.5 L2040.6,576.5 L2043.6,575.5 L2046.6,574.5 L2049.6,573.5 L2052.6,572.5 L2055.6,571.5 L2058.6,570.6 L2061.6,569.8 L2064.6,569.2 L2067.6,568.7 L2070.6,568.5 L2073.6,568.3 L2076.6,568.3 L2079.6,568.3 L2082.6,568.3 L2085.6,568.3 L2088.6,568.3 L2091.6,568.3 L2094.6,568.3 L2097.6,568.3 L2100.6,568.5 L2103.6,568.8 L2106.6,569.3 L2109.6,569.9 L2112.6,570.6 L2115.6,571.3 L2118.6,572.0 L2121.6,572.7 L2124.6,573.5 L2127.6,574.4 L2130.6,575.5 L2133.6,576.7 L2136.6,578.1 L2139.6,579.4 L2142.6,580.8 L2145.6,582.2 L2148.6,583.8 L2151.6,585.6 L2154.6,587.9 L2157.6,590.6 L2160.6,593.5 L2163.6,596.4 L2166.6,599.2 L2169.6,601.9 L2172.6,604.6 L2175.6,607.2 L2178.6,609.7 L2181.6,612.2 L2184.6,614.7 L2187.6,617.1 L2190.6,619.7 L2193.6,622.3 L2196.6,624.9 L2199.6,627.7 L2202.6,630.4 L2205.6,633.4 L2208.6,636.7 L2211.6,640.4 L2214.6,644.5 L2217.6,648.6 L2220.6,652.8 L2223.6,656.8 L2226.6,660.7 L2229.6,664.2 L2232.6,667.6 L2235.6,671.0 L2238.6,674.2 L2241.6,677.4 L2244.6,680.4 L2247.6,683.2 L2250.6,685.9 L2253.6,688.5 L2256.6,691.1 L2259.6,693.7 L2262.6,696.3 L2265.6,698.9 L2268.6,701.5 L2271.6,704.0 L2274.6,706.4 L2277.6,708.9 L2280.6,711.2 L2283.6,713.6 L2286.6,716.0 L2289.6,718.4 L2292.6,720.8 L2295.6,723.3 L2298.6,725.8 L2301.6,728.5 L2304.6,731.2 L2307.6,734.0 L2310.6,736.8 L2313.6,739.6 L2316.6,742.3 L2319.6,744.9 L2322.6,747.4 L2325.6,749.7 L2328.6,751.8 L2331.6,753.9 L2334.6,756.1 L2337.6,758.2 L2340.6,760.3 L2343.6,762.4 L2346.6,764.5 L2349.6,766.7 L2352.6,769.0 L2355.6,771.5 L2358.6,774.0 L2361.6,776.4 L2364.6,778.7 L2367.6,780.6 L2370.6,782.4 L2373.6,784.0 L2376.6,785.6 L2379.6,787.2 L2382.6,788.9 L2385.6,790.5 L2388.6,792.2 L2391.6,793.9 L2394.6,795.6 L2397.6,797.4 L2400.6,799.1 L2403.6,800.9 L2406.6,802.6 L2409.6,804.4 L2412.6,806.1 L2415.6,807.8 L2418.6,809.5 L2421.6,810.9 L2423.0,812.1" fill="none" stroke="#383838" stroke-width="2.8" stroke-linejoin="round"/>
<text x="93.22" y="251.04" font-size="42.50" textLength="51.00" lengthAdjust="spacingAndGlyphs" fill="#111">0.4</text>
<text x="73.22" y="392.04" font-size="42.50" textLength="71.40" lengthAdjust="spacingAndGlyphs" fill="#111">0.36</text>
<text x="74.45" y="533.04" font-size="42.50" textLength="71.40" lengthAdjust="spacingAndGlyphs" fill="#111">0.32</text>
<text x="73.63" y="674.04" font-size="42.50" textLength="71.40" lengthAdjust="spacingAndGlyphs" fill="#111">0.28</text>
<text x="72.82" y="815.04" font-size="42.50" textLength="71.40" lengthAdjust="spacingAndGlyphs" fill="#111">0.24</text>
<text x="94.85" y="956.04" font-size="42.50" textLength="51.00" lengthAdjust="spacingAndGlyphs" fill="#111">0.2</text>
<text x="1382.61" y="272.77" font-size="40.50" textLength="48.85" lengthAdjust="spacingAndGlyphs" fill="#111">0.3</text>
<text x="1363.07" y="358.67" font-size="40.50" textLength="68.39" lengthAdjust="spacingAndGlyphs" fill="#111">0.28</text>
<text x="1362.68" y="444.57" font-size="40.50" textLength="68.39" lengthAdjust="spacingAndGlyphs" fill="#111">0.26</text>
<text x="1362.29" y="530.47" font-size="40.50" textLength="68.39" lengthAdjust="spacingAndGlyphs" fill="#111">0.24</text>
<text x="1363.85" y="616.37" font-size="40.50" textLength="68.39" lengthAdjust="spacingAndGlyphs" fill="#111">0.22</text>
<text x="1383.39" y="702.27" font-size="40.50" textLength="48.85" lengthAdjust="spacingAndGlyphs" fill="#111">0.2</text>
<text x="1363.07" y="788.17" font-size="40.50" textLength="68.39" lengthAdjust="spacingAndGlyphs" fill="#111">0.18</text>
<text x="1362.68" y="874.07" font-size="40.50" textLength="68.39" lengthAdjust="spacingAndGlyphs" fill="#111">0.16</text>
<text x="1362.29" y="959.97" font-size="40.50" textLength="68.39" lengthAdjust="spacingAndGlyphs" fill="#111">0.14</text>
<text x="144.90" y="979.30" font-size="42.50" textLength="20.40" lengthAdjust="spacingAndGlyphs" fill="#111">0</text>
<text x="1431.33" y="984.10" font-size="40.50" textLength="19.54" lengthAdjust="spacingAndGlyphs" fill="#111">0</text>
<text x="302.70" y="979.30" font-size="42.50" textLength="40.80" lengthAdjust="spacingAndGlyphs" fill="#111">60</text>
<text x="1585.31" y="984.10" font-size="40.50" textLength="39.08" lengthAdjust="spacingAndGlyphs" fill="#111">60</text>
<text x="459.48" y="979.30" font-size="42.50" textLength="61.20" lengthAdjust="spacingAndGlyphs" fill="#111">120</text>
<text x="1738.31" y="984.10" font-size="40.50" textLength="58.62" lengthAdjust="spacingAndGlyphs" fill="#111">120</text>
<text x="627.48" y="979.30" font-size="42.50" textLength="61.20" lengthAdjust="spacingAndGlyphs" fill="#111">180</text>
<text x="1902.06" y="984.10" font-size="40.50" textLength="58.62" lengthAdjust="spacingAndGlyphs" fill="#111">180</text>
<text x="796.50" y="979.30" font-size="42.50" textLength="61.20" lengthAdjust="spacingAndGlyphs" fill="#111">240</text>
<text x="2066.79" y="984.10" font-size="40.50" textLength="58.62" lengthAdjust="spacingAndGlyphs" fill="#111">240</text>
<text x="964.30" y="979.30" font-size="42.50" textLength="61.20" lengthAdjust="spacingAndGlyphs" fill="#111">300</text>
<text x="2230.34" y="984.10" font-size="40.50" textLength="58.62" lengthAdjust="spacingAndGlyphs" fill="#111">300</text>
<text x="1132.30" y="979.30" font-size="42.50" textLength="61.20" lengthAdjust="spacingAndGlyphs" fill="#111">360</text>
<text x="2394.09" y="984.10" font-size="40.50" textLength="58.62" lengthAdjust="spacingAndGlyphs" fill="#111">360</text>
<text x="415.89" y="1024.30" font-size="50.00" textLength="491.19" lengthAdjust="spacingAndGlyphs" fill="#111">Azimuthal angle [ Deg ]</text>
<text x="1693.81" y="1027.20" font-size="50.50" textLength="480.49" lengthAdjust="spacingAndGlyphs" fill="#111">Azimuthal angle [ Deg ]</text>
<text transform="translate(45.7,663.0) rotate(-90)" font-size="52" fill="#111">C</text>
<text transform="translate(66.0,626.3) rotate(-90)" font-size="36" fill="#111">D</text>
<text transform="translate(46.0,587.2) rotate(-90)" font-size="49" fill="#111">[ - ]</text>
<text transform="translate(1336.3,674.0) rotate(-90)" font-size="52" fill="#111">C</text>
<text transform="translate(1354.5,640.0) rotate(-90)" font-size="36" fill="#111">D</text>
<text transform="translate(1337.3,600.9) rotate(-90)" font-size="49" fill="#111">[ - ]</text>
<line x1="422.9" y1="311.4" x2="485.4" y2="311.4" stroke="#383838" stroke-width="2.6"/>
<text x="504.90" y="324.20" font-size="42.00" textLength="133.78" lengthAdjust="spacingAndGlyphs" fill="#111">40 RPM</text>
<line x1="422.9" y1="350.0" x2="485.4" y2="350.0" stroke="#ff3232" stroke-width="2.6" stroke-dasharray="16 4"/>
<text x="504.92" y="362.80" font-size="42.00" textLength="133.77" lengthAdjust="spacingAndGlyphs" fill="#111">50 RPM</text>
<line x1="422.9" y1="388.6" x2="485.4" y2="388.6" stroke="#3c3cf6" stroke-width="2.6" stroke-dasharray="4.2 3.8 15.6 3.8"/>
<text x="504.91" y="401.40" font-size="42.00" textLength="133.78" lengthAdjust="spacingAndGlyphs" fill="#111">60 RPM</text>
<line x1="422.9" y1="427.1" x2="485.4" y2="427.1" stroke="#a45cdc" stroke-width="2.6" stroke-dasharray="4.3 3.8 10.5 3.8 4.3 3.8"/>
<text x="504.92" y="439.90" font-size="42.00" textLength="133.76" lengthAdjust="spacingAndGlyphs" fill="#111">70 RPM</text>
<line x1="422.9" y1="466.1" x2="485.4" y2="466.1" stroke="#f2a000" stroke-width="2.6" stroke-dasharray="6.6 5.1"/>
<text x="504.91" y="478.90" font-size="42.00" textLength="133.78" lengthAdjust="spacingAndGlyphs" fill="#111">80 RPM</text>
<line x1="1947.2" y1="704.7" x2="2008.6" y2="704.7" stroke="#383838" stroke-width="2.8"/>
<text x="2027.24" y="717.50" font-size="40.70" textLength="128.20" lengthAdjust="spacingAndGlyphs" fill="#111">40 RPM</text>
<line x1="1947.2" y1="741.0" x2="2008.6" y2="741.0" stroke="#ff3232" stroke-width="2.8" stroke-dasharray="19 4"/>
<text x="2027.25" y="753.80" font-size="40.70" textLength="128.18" lengthAdjust="spacingAndGlyphs" fill="#111">50 RPM</text>
<line x1="1947.2" y1="778.2" x2="2008.6" y2="778.2" stroke="#3c3cf6" stroke-width="2.8" stroke-dasharray="5.5 3.6 19 3.6"/>
<text x="2027.24" y="791.00" font-size="40.70" textLength="128.19" lengthAdjust="spacingAndGlyphs" fill="#111">60 RPM</text>
<line x1="1947.2" y1="815.8" x2="2008.6" y2="815.8" stroke="#a45cdc" stroke-width="2.8" stroke-dasharray="5.4 3.9 14.1 3.9 5.4 3.9"/>
<text x="2027.26" y="828.60" font-size="40.70" textLength="128.18" lengthAdjust="spacingAndGlyphs" fill="#111">70 RPM</text>
<line x1="1947.2" y1="852.4" x2="2008.6" y2="852.4" stroke="#f2a000" stroke-width="2.8" stroke-dasharray="7.7 5.9"/>
<text x="2027.24" y="865.20" font-size="40.70" textLength="128.19" lengthAdjust="spacingAndGlyphs" fill="#111">80 RPM</text>
<text x="602" y="1146" font-size="53" text-anchor="middle" fill="#000">(<tspan font-weight="bold">a</tspan>)</text>
<text x="1872" y="1146" font-size="53" text-anchor="middle" fill="#000">(<tspan font-weight="bold" dx="2">b</tspan><tspan dx="2">)</tspan></text>
</g>
</svg>
</body></html>
